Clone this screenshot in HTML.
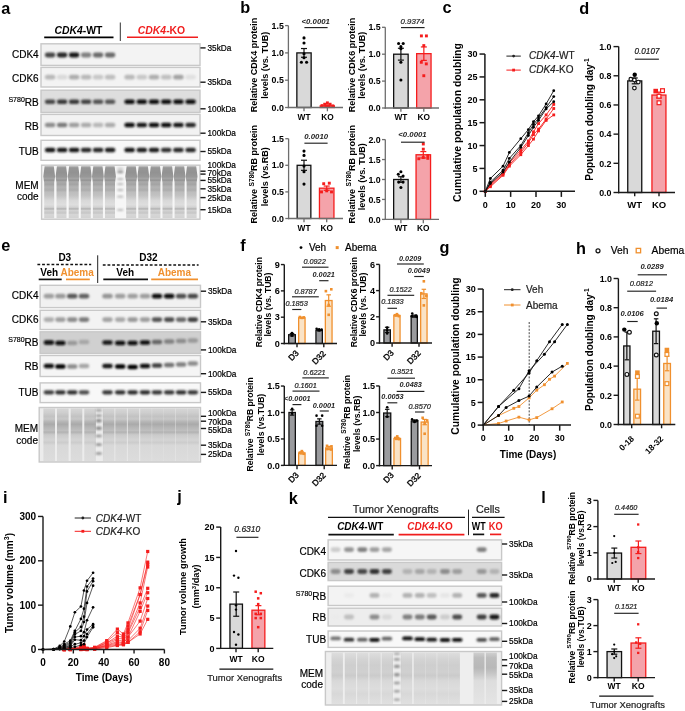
<!DOCTYPE html>
<html><head><meta charset="utf-8"><title>Figure</title>
<style>html,body{margin:0;padding:0;background:#fff;overflow:hidden;}svg{display:block;will-change:transform;}
text{font-family:"Liberation Sans",sans-serif;}</style></head>
<body><svg width="685" height="711" viewBox="0 0 685 711" font-family="'Liberation Sans', sans-serif"><defs>
<filter id="bl" x="-50%" y="-100%" width="200%" height="300%"><feGaussianBlur stdDeviation="1.1 0.85"/></filter>
<filter id="bl2" x="-20%" y="-5%" width="140%" height="110%"><feGaussianBlur stdDeviation="0.7"/></filter>
<linearGradient id="memg" x1="0" y1="0" x2="0" y2="1">
<stop offset="0" stop-color="#a8a8a8"/>
<stop offset="0.04" stop-color="#969696"/>
<stop offset="0.12" stop-color="#929292"/>
<stop offset="0.2" stop-color="#989898"/>
<stop offset="0.24" stop-color="#a4a4a4"/>
<stop offset="0.27" stop-color="#939393"/>
<stop offset="0.3" stop-color="#aaaaaa"/>
<stop offset="0.35" stop-color="#a4a4a4"/>
<stop offset="0.4" stop-color="#b4b4b4"/>
<stop offset="0.46" stop-color="#adadad"/>
<stop offset="0.5" stop-color="#bdbdbd"/>
<stop offset="0.56" stop-color="#c2c2c2"/>
<stop offset="0.6" stop-color="#cacaca"/>
<stop offset="0.66" stop-color="#d8d8d8"/>
<stop offset="0.74" stop-color="#dedede"/>
<stop offset="0.79" stop-color="#d2d2d2"/>
<stop offset="0.82" stop-color="#b2b2b2"/>
<stop offset="0.85" stop-color="#d2d2d2"/>
<stop offset="0.9" stop-color="#c6c6c6"/>
<stop offset="0.93" stop-color="#d6d6d6"/>
<stop offset="1" stop-color="#d2d2d2"/>
</linearGradient>
<linearGradient id="memg2" x1="0" y1="0" x2="0" y2="1">
<stop offset="0" stop-color="#d6d6d6"/>
<stop offset="0.08" stop-color="#cecece"/>
<stop offset="0.15" stop-color="#c2c2c2"/>
<stop offset="0.2" stop-color="#c8c8c8"/>
<stop offset="0.25" stop-color="#b6b6b6"/>
<stop offset="0.3" stop-color="#aaaaaa"/>
<stop offset="0.36" stop-color="#b6b6b6"/>
<stop offset="0.42" stop-color="#bebebe"/>
<stop offset="0.45" stop-color="#b2b2b2"/>
<stop offset="0.5" stop-color="#cacaca"/>
<stop offset="0.6" stop-color="#d4d4d4"/>
<stop offset="0.65" stop-color="#cccccc"/>
<stop offset="0.7" stop-color="#d8d8d8"/>
<stop offset="1" stop-color="#dcdcdc"/>
</linearGradient>
<linearGradient id="memg3" x1="0" y1="0" x2="0" y2="1">
<stop offset="0" stop-color="#dedede"/>
<stop offset="0.12" stop-color="#d4d4d4"/>
<stop offset="0.25" stop-color="#cecece"/>
<stop offset="0.38" stop-color="#d0d0d0"/>
<stop offset="0.45" stop-color="#cbcbcb"/>
<stop offset="0.55" stop-color="#d8d8d8"/>
<stop offset="0.7" stop-color="#dddddd"/>
<stop offset="0.8" stop-color="#d8d8d8"/>
<stop offset="1" stop-color="#e0e0e0"/>
</linearGradient>
<linearGradient id="memg4" x1="0" y1="0" x2="0" y2="1">
<stop offset="0" stop-color="#d0d0d0"/>
<stop offset="0.1" stop-color="#bdbdbd"/>
<stop offset="0.3" stop-color="#b8b8b8"/>
<stop offset="0.42" stop-color="#c8c8c8"/>
<stop offset="0.55" stop-color="#dddddd"/>
<stop offset="1" stop-color="#e4e4e4"/>
</linearGradient>
</defs>
<text x="1.30" y="13.60" font-size="16.3" font-weight="bold">a</text>
<text x="78.40" y="33.70" font-size="10.4" font-weight="bold" text-anchor="middle"><tspan font-style="italic">CDK4</tspan>-WT</text>
<line x1="44.20" y1="37.40" x2="113.50" y2="37.40" stroke="#000" stroke-width="1.6"/>
<text x="161.50" y="33.60" font-size="10.4" font-weight="bold" text-anchor="middle" fill="#f01e1e"><tspan font-style="italic">CDK4</tspan>-KO</text>
<line x1="127.00" y1="37.30" x2="198.00" y2="37.30" stroke="#f01e1e" stroke-width="1.6"/>
<line x1="120.30" y1="22.50" x2="120.30" y2="41.00" stroke="#333" stroke-width="1"/>
<rect x="41.00" y="43.80" width="159.00" height="21.60" fill="#f3f3f3" stroke="#c8c8c8" stroke-width="1.4"/>
<rect x="44.85" y="52.60" width="10.50" height="4.80" rx="2.40" fill="#474747" filter="url(#bl)"/>
<rect x="56.85" y="52.60" width="10.50" height="4.80" rx="2.40" fill="#262626" filter="url(#bl)"/>
<rect x="68.85" y="52.60" width="10.50" height="4.80" rx="2.40" fill="#191919" filter="url(#bl)"/>
<rect x="80.85" y="52.60" width="10.50" height="4.80" rx="2.40" fill="#808080" filter="url(#bl)"/>
<rect x="92.85" y="52.60" width="10.50" height="4.80" rx="2.40" fill="#6b6b6b" filter="url(#bl)"/>
<rect x="104.85" y="52.60" width="10.50" height="4.80" rx="2.40" fill="#6b6b6b" filter="url(#bl)"/>
<text x="38.70" y="58.30" font-size="10" text-anchor="end" stroke="#000" stroke-width="0.2">CDK4</text>
<line x1="200.40" y1="47.90" x2="205.60" y2="47.90" stroke="#1a1a1a" stroke-width="1.4"/>
<text x="207.50" y="50.87" font-size="8.25" stroke="#000" stroke-width="0.2">35kDa</text>
<rect x="41.00" y="67.40" width="159.00" height="19.60" fill="#f3f3f3" stroke="#c8c8c8" stroke-width="1.4"/>
<rect x="44.85" y="74.80" width="10.50" height="4.80" rx="2.40" fill="#b8b8b8" filter="url(#bl)"/>
<rect x="56.85" y="74.80" width="10.50" height="4.80" rx="2.40" fill="#d9d9d9" filter="url(#bl)"/>
<rect x="68.85" y="74.80" width="10.50" height="4.80" rx="2.40" fill="#adadad" filter="url(#bl)"/>
<rect x="80.85" y="74.80" width="10.50" height="4.80" rx="2.40" fill="#b8b8b8" filter="url(#bl)"/>
<rect x="92.85" y="74.80" width="10.50" height="4.80" rx="2.40" fill="#c7c7c7" filter="url(#bl)"/>
<rect x="104.85" y="74.80" width="10.50" height="4.80" rx="2.40" fill="#bdbdbd" filter="url(#bl)"/>
<rect x="124.35" y="74.80" width="10.50" height="4.80" rx="2.40" fill="#b8b8b8" filter="url(#bl)"/>
<rect x="136.55" y="74.80" width="10.50" height="4.80" rx="2.40" fill="#c7c7c7" filter="url(#bl)"/>
<rect x="148.75" y="74.80" width="10.50" height="4.80" rx="2.40" fill="#adadad" filter="url(#bl)"/>
<rect x="160.95" y="74.80" width="10.50" height="4.80" rx="2.40" fill="#bfbfbf" filter="url(#bl)"/>
<rect x="173.15" y="74.80" width="10.50" height="4.80" rx="2.40" fill="#a3a3a3" filter="url(#bl)"/>
<rect x="185.35" y="74.80" width="10.50" height="4.80" rx="2.40" fill="#e0e0e0" filter="url(#bl)"/>
<text x="38.70" y="81.80" font-size="10" text-anchor="end" stroke="#000" stroke-width="0.2">CDK6</text>
<line x1="200.40" y1="82.20" x2="205.60" y2="82.20" stroke="#1a1a1a" stroke-width="1.4"/>
<text x="207.50" y="85.17" font-size="8.25" stroke="#000" stroke-width="0.2">35kDa</text>
<rect x="41.00" y="90.20" width="159.00" height="22.20" fill="#dedede" stroke="#c8c8c8" stroke-width="1.4"/>
<rect x="44.85" y="99.50" width="10.50" height="4.60" rx="2.30" fill="#474747" filter="url(#bl)"/>
<rect x="56.85" y="99.50" width="10.50" height="4.60" rx="2.30" fill="#383838" filter="url(#bl)"/>
<rect x="68.85" y="99.50" width="10.50" height="4.60" rx="2.30" fill="#383838" filter="url(#bl)"/>
<rect x="80.85" y="99.50" width="10.50" height="4.60" rx="2.30" fill="#424242" filter="url(#bl)"/>
<rect x="92.85" y="99.50" width="10.50" height="4.60" rx="2.30" fill="#525252" filter="url(#bl)"/>
<rect x="104.85" y="99.50" width="10.50" height="4.60" rx="2.30" fill="#575757" filter="url(#bl)"/>
<rect x="124.35" y="99.50" width="10.50" height="4.60" rx="2.30" fill="#0d0d0d" filter="url(#bl)"/>
<rect x="136.55" y="99.50" width="10.50" height="4.60" rx="2.30" fill="#0d0d0d" filter="url(#bl)"/>
<rect x="148.75" y="99.50" width="10.50" height="4.60" rx="2.30" fill="#0d0d0d" filter="url(#bl)"/>
<rect x="160.95" y="99.50" width="10.50" height="4.60" rx="2.30" fill="#0d0d0d" filter="url(#bl)"/>
<rect x="173.15" y="99.50" width="10.50" height="4.60" rx="2.30" fill="#0d0d0d" filter="url(#bl)"/>
<rect x="185.35" y="99.50" width="10.50" height="4.60" rx="2.30" fill="#0d0d0d" filter="url(#bl)"/>
<text x="38.70" y="105.80" font-size="10" text-anchor="end" stroke="#000" stroke-width="0.2"><tspan font-size="7.00" dy="-3.80">S780</tspan><tspan dy="3.80">RB</tspan></text>
<line x1="200.40" y1="108.80" x2="205.60" y2="108.80" stroke="#1a1a1a" stroke-width="1.4"/>
<text x="207.50" y="111.77" font-size="8.25" stroke="#000" stroke-width="0.2">100kDa</text>
<rect x="41.00" y="114.40" width="159.00" height="21.10" fill="#f2f2f2" stroke="#c8c8c8" stroke-width="1.4"/>
<rect x="44.85" y="122.80" width="10.50" height="4.40" rx="2.20" fill="#8c8c8c" filter="url(#bl)"/>
<rect x="56.85" y="122.80" width="10.50" height="4.40" rx="2.20" fill="#7a7a7a" filter="url(#bl)"/>
<rect x="68.85" y="122.80" width="10.50" height="4.40" rx="2.20" fill="#9e9e9e" filter="url(#bl)"/>
<rect x="80.85" y="122.80" width="10.50" height="4.40" rx="2.20" fill="#ababab" filter="url(#bl)"/>
<rect x="92.85" y="122.80" width="10.50" height="4.40" rx="2.20" fill="#b8b8b8" filter="url(#bl)"/>
<rect x="104.85" y="122.80" width="10.50" height="4.40" rx="2.20" fill="#ababab" filter="url(#bl)"/>
<rect x="124.35" y="122.80" width="10.50" height="4.40" rx="2.20" fill="#0d0d0d" filter="url(#bl)"/>
<rect x="136.55" y="122.80" width="10.50" height="4.40" rx="2.20" fill="#191919" filter="url(#bl)"/>
<rect x="148.75" y="122.80" width="10.50" height="4.40" rx="2.20" fill="#080808" filter="url(#bl)"/>
<rect x="160.95" y="122.80" width="10.50" height="4.40" rx="2.20" fill="#0d0d0d" filter="url(#bl)"/>
<rect x="173.15" y="122.80" width="10.50" height="4.40" rx="2.20" fill="#191919" filter="url(#bl)"/>
<rect x="185.35" y="122.80" width="10.50" height="4.40" rx="2.20" fill="#262626" filter="url(#bl)"/>
<text x="38.70" y="130.10" font-size="10" text-anchor="end" stroke="#000" stroke-width="0.2">RB</text>
<line x1="200.40" y1="133.20" x2="205.60" y2="133.20" stroke="#1a1a1a" stroke-width="1.4"/>
<text x="207.50" y="136.17" font-size="8.25" stroke="#000" stroke-width="0.2">100kDa</text>
<rect x="41.00" y="140.30" width="159.00" height="20.00" fill="#f8f8f8" stroke="#c8c8c8" stroke-width="1.4"/>
<rect x="44.85" y="147.80" width="10.50" height="4.40" rx="2.20" fill="#141414" filter="url(#bl)"/>
<rect x="56.85" y="147.80" width="10.50" height="4.40" rx="2.20" fill="#191919" filter="url(#bl)"/>
<rect x="68.85" y="147.80" width="10.50" height="4.40" rx="2.20" fill="#191919" filter="url(#bl)"/>
<rect x="80.85" y="147.80" width="10.50" height="4.40" rx="2.20" fill="#262626" filter="url(#bl)"/>
<rect x="92.85" y="147.80" width="10.50" height="4.40" rx="2.20" fill="#262626" filter="url(#bl)"/>
<rect x="104.85" y="147.80" width="10.50" height="4.40" rx="2.20" fill="#1f1f1f" filter="url(#bl)"/>
<rect x="124.35" y="147.80" width="10.50" height="4.40" rx="2.20" fill="#191919" filter="url(#bl)"/>
<rect x="136.55" y="147.80" width="10.50" height="4.40" rx="2.20" fill="#1f1f1f" filter="url(#bl)"/>
<rect x="148.75" y="147.80" width="10.50" height="4.40" rx="2.20" fill="#1f1f1f" filter="url(#bl)"/>
<rect x="160.95" y="147.80" width="10.50" height="4.40" rx="2.20" fill="#333333" filter="url(#bl)"/>
<rect x="173.15" y="147.80" width="10.50" height="4.40" rx="2.20" fill="#262626" filter="url(#bl)"/>
<rect x="185.35" y="147.80" width="10.50" height="4.40" rx="2.20" fill="#262626" filter="url(#bl)"/>
<text x="38.70" y="155.10" font-size="10" text-anchor="end" stroke="#000" stroke-width="0.2">TUB</text>
<line x1="200.40" y1="151.50" x2="205.60" y2="151.50" stroke="#1a1a1a" stroke-width="1.4"/>
<text x="207.50" y="154.47" font-size="8.25" stroke="#000" stroke-width="0.2">55kDa</text>
<rect x="41.60" y="165.20" width="158.40" height="54.00" fill="#f6f6f6" stroke="#c8c8c8" stroke-width="1.4"/>
<polygon points="44.60,166.20 53.80,166.20 55.10,176.60 54.20,182.84 54.20,218.20 44.20,218.20 44.20,182.84 43.30,176.60" fill="url(#memg)" filter="url(#bl2)"/>
<polygon points="56.90,166.20 66.10,166.20 67.40,176.60 66.50,182.84 66.50,218.20 56.50,218.20 56.50,182.84 55.60,176.60" fill="url(#memg)" filter="url(#bl2)"/>
<polygon points="69.10,166.20 78.30,166.20 79.60,176.60 78.70,182.84 78.70,218.20 68.70,218.20 68.70,182.84 67.80,176.60" fill="url(#memg)" filter="url(#bl2)"/>
<polygon points="81.20,166.20 90.40,166.20 91.70,176.60 90.80,182.84 90.80,218.20 80.80,218.20 80.80,182.84 79.90,176.60" fill="url(#memg)" filter="url(#bl2)"/>
<polygon points="93.30,166.20 102.50,166.20 103.80,176.60 102.90,182.84 102.90,218.20 92.90,218.20 92.90,182.84 92.00,176.60" fill="url(#memg)" filter="url(#bl2)"/>
<polygon points="105.40,166.20 114.60,166.20 115.90,176.60 115.00,182.84 115.00,218.20 105.00,218.20 105.00,182.84 104.10,176.60" fill="url(#memg)" filter="url(#bl2)"/>
<polygon points="126.60,166.20 135.80,166.20 137.10,176.60 136.20,182.84 136.20,218.20 126.20,218.20 126.20,182.84 125.30,176.60" fill="url(#memg)" filter="url(#bl2)"/>
<polygon points="138.70,166.20 147.90,166.20 149.20,176.60 148.30,182.84 148.30,218.20 138.30,218.20 138.30,182.84 137.40,176.60" fill="url(#memg)" filter="url(#bl2)"/>
<polygon points="150.80,166.20 160.00,166.20 161.30,176.60 160.40,182.84 160.40,218.20 150.40,218.20 150.40,182.84 149.50,176.60" fill="url(#memg)" filter="url(#bl2)"/>
<polygon points="162.90,166.20 172.10,166.20 173.40,176.60 172.50,182.84 172.50,218.20 162.50,218.20 162.50,182.84 161.60,176.60" fill="url(#memg)" filter="url(#bl2)"/>
<polygon points="175.00,166.20 184.20,166.20 185.50,176.60 184.60,182.84 184.60,218.20 174.60,218.20 174.60,182.84 173.70,176.60" fill="url(#memg)" filter="url(#bl2)"/>
<polygon points="187.00,166.20 196.20,166.20 197.50,176.60 196.60,182.84 196.60,218.20 186.60,218.20 186.60,182.84 185.70,176.60" fill="url(#memg)" filter="url(#bl2)"/>
<rect x="117.30" y="167.70" width="6" height="1.8" rx="0.9" fill="#bfbfbf" filter="url(#bl)"/>
<rect x="117.30" y="170.60" width="6" height="2.6" rx="1.3" fill="#999999" filter="url(#bl)"/>
<rect x="117.30" y="178.30" width="6" height="1.8" rx="0.9" fill="#b2b2b2" filter="url(#bl)"/>
<rect x="117.30" y="183.30" width="6" height="1.8" rx="0.9" fill="#b2b2b2" filter="url(#bl)"/>
<rect x="117.30" y="189.10" width="6" height="1.8" rx="0.9" fill="#b8b8b8" filter="url(#bl)"/>
<rect x="117.30" y="195.80" width="6" height="1.8" rx="0.9" fill="#b2b2b2" filter="url(#bl)"/>
<rect x="117.30" y="209.00" width="6" height="1.8" rx="0.9" fill="#b2b2b2" filter="url(#bl)"/>
<text x="38.70" y="188.50" font-size="10" text-anchor="end" stroke="#000" stroke-width="0.2">MEM</text>
<text x="38.70" y="200.40" font-size="10" text-anchor="end" stroke="#000" stroke-width="0.2">code</text>
<text x="207.50" y="167.97" font-size="8.25" stroke="#000" stroke-width="0.2">100kDa</text>
<line x1="200.40" y1="171.20" x2="205.60" y2="171.20" stroke="#1a1a1a" stroke-width="1.4"/>
<line x1="200.40" y1="174.10" x2="205.60" y2="174.10" stroke="#1a1a1a" stroke-width="1.4"/>
<text x="207.50" y="175.77" font-size="8.25" stroke="#000" stroke-width="0.2">70kDa</text>
<line x1="200.40" y1="180.40" x2="205.60" y2="180.40" stroke="#1a1a1a" stroke-width="1.4"/>
<text x="207.50" y="183.37" font-size="8.25" stroke="#000" stroke-width="0.2">55kDa</text>
<line x1="200.40" y1="188.80" x2="205.60" y2="188.80" stroke="#1a1a1a" stroke-width="1.4"/>
<text x="207.50" y="191.77" font-size="8.25" stroke="#000" stroke-width="0.2">35kDa</text>
<line x1="200.40" y1="197.60" x2="205.60" y2="197.60" stroke="#1a1a1a" stroke-width="1.4"/>
<text x="207.50" y="200.57" font-size="8.25" stroke="#000" stroke-width="0.2">25kDa</text>
<line x1="200.40" y1="209.70" x2="205.60" y2="209.70" stroke="#1a1a1a" stroke-width="1.4"/>
<text x="207.50" y="212.67" font-size="8.25" stroke="#000" stroke-width="0.2">15kDa</text>
<text x="240.20" y="13.10" font-size="16.3" font-weight="bold">b</text>
<text x="0" y="0" font-size="9" font-weight="bold" text-anchor="middle" transform="translate(257.00,64.90) rotate(-90)">Relative CDK4 protein</text>
<text x="0" y="0" font-size="9" font-weight="bold" text-anchor="middle" transform="translate(267.60,65.20) rotate(-90)">levels (vs. TUB)</text>
<line x1="288.40" y1="25.60" x2="288.40" y2="108.15" stroke="#6e6e6e" stroke-width="1.3"/>
<line x1="285.10" y1="107.50" x2="288.40" y2="107.50" stroke="#6e6e6e" stroke-width="1.3"/>
<text x="283.80" y="110.67" font-size="8.8" font-weight="bold" text-anchor="end">0.0</text>
<line x1="285.10" y1="80.20" x2="288.40" y2="80.20" stroke="#6e6e6e" stroke-width="1.3"/>
<text x="283.80" y="83.37" font-size="8.8" font-weight="bold" text-anchor="end">0.5</text>
<line x1="285.10" y1="52.90" x2="288.40" y2="52.90" stroke="#6e6e6e" stroke-width="1.3"/>
<text x="283.80" y="56.07" font-size="8.8" font-weight="bold" text-anchor="end">1.0</text>
<line x1="285.10" y1="25.60" x2="288.40" y2="25.60" stroke="#6e6e6e" stroke-width="1.3"/>
<text x="283.80" y="28.77" font-size="8.8" font-weight="bold" text-anchor="end">1.5</text>
<rect x="296.85" y="52.90" width="14.30" height="54.60" fill="#d9d9d9" stroke="#111" stroke-width="1.3"/>
<line x1="304.00" y1="48.53" x2="304.00" y2="57.27" stroke="#111" stroke-width="1.2"/>
<line x1="301.00" y1="48.53" x2="307.00" y2="48.53" stroke="#111" stroke-width="1.2"/>
<line x1="301.00" y1="57.27" x2="307.00" y2="57.27" stroke="#111" stroke-width="1.2"/>
<rect x="320.25" y="105.86" width="14.10" height="1.64" fill="#f4a3aa" stroke="#f51d1d" stroke-width="1.3"/>
<line x1="327.30" y1="105.21" x2="327.30" y2="106.52" stroke="#f51d1d" stroke-width="1.2"/>
<line x1="324.30" y1="105.21" x2="330.30" y2="105.21" stroke="#f51d1d" stroke-width="1.2"/>
<line x1="324.30" y1="106.52" x2="330.30" y2="106.52" stroke="#f51d1d" stroke-width="1.2"/>
<circle cx="304.00" cy="37.89" r="1.55" fill="#000"/>
<circle cx="304.00" cy="43.07" r="1.55" fill="#000"/>
<circle cx="304.00" cy="53.72" r="1.55" fill="#000"/>
<circle cx="304.00" cy="57.81" r="1.55" fill="#000"/>
<circle cx="301.40" cy="62.18" r="1.55" fill="#000"/>
<circle cx="306.60" cy="62.18" r="1.55" fill="#000"/>
<rect x="325.95" y="101.41" width="2.90" height="2.90" fill="#f51d1d"/>
<rect x="323.25" y="102.77" width="2.90" height="2.90" fill="#f51d1d"/>
<rect x="328.65" y="102.77" width="2.90" height="2.90" fill="#f51d1d"/>
<rect x="320.55" y="104.14" width="2.90" height="2.90" fill="#f51d1d"/>
<rect x="331.35" y="104.41" width="2.90" height="2.90" fill="#f51d1d"/>
<rect x="325.95" y="104.41" width="2.90" height="2.90" fill="#f51d1d"/>
<line x1="287.75" y1="107.50" x2="343.00" y2="107.50" stroke="#6e6e6e" stroke-width="1.3"/>
<line x1="304.00" y1="107.50" x2="304.00" y2="111.30" stroke="#6e6e6e" stroke-width="1.3"/>
<line x1="327.40" y1="107.50" x2="327.40" y2="111.30" stroke="#6e6e6e" stroke-width="1.3"/>
<text x="304.00" y="119.60" font-size="8.3" font-weight="bold" text-anchor="middle">WT</text>
<text x="327.40" y="119.60" font-size="8.3" font-weight="bold" text-anchor="middle">KO</text>
<text x="315.70" y="23.60" font-size="7.8" font-weight="bold" font-style="italic" text-anchor="middle" fill="#222">&lt;0.0001</text>
<line x1="304.40" y1="27.60" x2="327.60" y2="27.60" stroke="#222" stroke-width="1.15"/>
<text x="0" y="0" font-size="9" font-weight="bold" text-anchor="middle" transform="translate(354.60,64.90) rotate(-90)">Relative CDK6 protein</text>
<text x="0" y="0" font-size="9" font-weight="bold" text-anchor="middle" transform="translate(364.70,65.20) rotate(-90)">levels (vs. TUB)</text>
<line x1="385.30" y1="27.30" x2="385.30" y2="108.65" stroke="#6e6e6e" stroke-width="1.3"/>
<line x1="382.00" y1="108.00" x2="385.30" y2="108.00" stroke="#6e6e6e" stroke-width="1.3"/>
<text x="380.70" y="111.17" font-size="8.8" font-weight="bold" text-anchor="end">0.0</text>
<line x1="382.00" y1="81.10" x2="385.30" y2="81.10" stroke="#6e6e6e" stroke-width="1.3"/>
<text x="380.70" y="84.27" font-size="8.8" font-weight="bold" text-anchor="end">0.5</text>
<line x1="382.00" y1="54.20" x2="385.30" y2="54.20" stroke="#6e6e6e" stroke-width="1.3"/>
<text x="380.70" y="57.37" font-size="8.8" font-weight="bold" text-anchor="end">1.0</text>
<line x1="382.00" y1="27.30" x2="385.30" y2="27.30" stroke="#6e6e6e" stroke-width="1.3"/>
<text x="380.70" y="30.47" font-size="8.8" font-weight="bold" text-anchor="end">1.5</text>
<rect x="393.65" y="54.20" width="14.50" height="53.80" fill="#d9d9d9" stroke="#111" stroke-width="1.3"/>
<line x1="400.90" y1="48.28" x2="400.90" y2="60.12" stroke="#111" stroke-width="1.2"/>
<line x1="397.90" y1="48.28" x2="403.90" y2="48.28" stroke="#111" stroke-width="1.2"/>
<line x1="397.90" y1="60.12" x2="403.90" y2="60.12" stroke="#111" stroke-width="1.2"/>
<rect x="416.65" y="53.66" width="14.40" height="54.34" fill="#f4a3aa" stroke="#f51d1d" stroke-width="1.3"/>
<line x1="423.85" y1="46.94" x2="423.85" y2="60.39" stroke="#f51d1d" stroke-width="1.2"/>
<line x1="420.85" y1="46.94" x2="426.85" y2="46.94" stroke="#f51d1d" stroke-width="1.2"/>
<line x1="420.85" y1="60.39" x2="426.85" y2="60.39" stroke="#f51d1d" stroke-width="1.2"/>
<circle cx="398.60" cy="43.44" r="1.55" fill="#000"/>
<circle cx="403.20" cy="43.44" r="1.55" fill="#000"/>
<circle cx="400.90" cy="46.67" r="1.55" fill="#000"/>
<circle cx="400.90" cy="48.82" r="1.55" fill="#000"/>
<circle cx="400.90" cy="62.27" r="1.55" fill="#000"/>
<circle cx="400.90" cy="80.02" r="1.55" fill="#000"/>
<rect x="419.95" y="34.46" width="2.90" height="2.90" fill="#f51d1d"/>
<rect x="424.95" y="34.46" width="2.90" height="2.90" fill="#f51d1d"/>
<rect x="422.35" y="44.14" width="2.90" height="2.90" fill="#f51d1d"/>
<rect x="419.85" y="60.82" width="2.90" height="2.90" fill="#f51d1d"/>
<rect x="424.85" y="62.43" width="2.90" height="2.90" fill="#f51d1d"/>
<rect x="422.35" y="74.27" width="2.90" height="2.90" fill="#f51d1d"/>
<line x1="384.65" y1="108.00" x2="439.00" y2="108.00" stroke="#6e6e6e" stroke-width="1.3"/>
<line x1="400.90" y1="108.00" x2="400.90" y2="111.80" stroke="#6e6e6e" stroke-width="1.3"/>
<line x1="423.80" y1="108.00" x2="423.80" y2="111.80" stroke="#6e6e6e" stroke-width="1.3"/>
<text x="400.90" y="119.80" font-size="8.3" font-weight="bold" text-anchor="middle">WT</text>
<text x="423.80" y="119.80" font-size="8.3" font-weight="bold" text-anchor="middle">KO</text>
<text x="412.50" y="23.90" font-size="7.8" font-style="italic" text-anchor="middle" fill="#222" stroke="#222" stroke-width="0.2">0.9374</text>
<line x1="401.00" y1="27.60" x2="424.60" y2="27.60" stroke="#222" stroke-width="1.15"/>
<text x="0" y="0" font-size="9" font-weight="bold" text-anchor="middle" transform="translate(257.20,174.20) rotate(-90)"><tspan>Relative </tspan><tspan font-size="6.6" dy="-3.7">S780</tspan><tspan dy="3.7">RB protein</tspan></text>
<text x="0" y="0" font-size="9" font-weight="bold" text-anchor="middle" transform="translate(267.90,176.70) rotate(-90)">levels (vs.RB)</text>
<line x1="288.60" y1="138.70" x2="288.60" y2="219.15" stroke="#6e6e6e" stroke-width="1.3"/>
<line x1="285.30" y1="218.50" x2="288.60" y2="218.50" stroke="#6e6e6e" stroke-width="1.3"/>
<text x="284.00" y="221.67" font-size="8.8" font-weight="bold" text-anchor="end">0.0</text>
<line x1="285.30" y1="191.90" x2="288.60" y2="191.90" stroke="#6e6e6e" stroke-width="1.3"/>
<text x="284.00" y="195.07" font-size="8.8" font-weight="bold" text-anchor="end">0.5</text>
<line x1="285.30" y1="165.30" x2="288.60" y2="165.30" stroke="#6e6e6e" stroke-width="1.3"/>
<text x="284.00" y="168.47" font-size="8.8" font-weight="bold" text-anchor="end">1.0</text>
<line x1="285.30" y1="138.70" x2="288.60" y2="138.70" stroke="#6e6e6e" stroke-width="1.3"/>
<text x="284.00" y="141.87" font-size="8.8" font-weight="bold" text-anchor="end">1.5</text>
<rect x="297.15" y="165.30" width="13.70" height="53.20" fill="#d9d9d9" stroke="#111" stroke-width="1.3"/>
<line x1="304.00" y1="160.25" x2="304.00" y2="170.35" stroke="#111" stroke-width="1.2"/>
<line x1="301.00" y1="160.25" x2="307.00" y2="160.25" stroke="#111" stroke-width="1.2"/>
<line x1="301.00" y1="170.35" x2="307.00" y2="170.35" stroke="#111" stroke-width="1.2"/>
<rect x="319.45" y="188.18" width="14.50" height="30.32" fill="#f4a3aa" stroke="#f51d1d" stroke-width="1.3"/>
<line x1="326.70" y1="186.05" x2="326.70" y2="190.30" stroke="#f51d1d" stroke-width="1.2"/>
<line x1="323.70" y1="186.05" x2="329.70" y2="186.05" stroke="#f51d1d" stroke-width="1.2"/>
<line x1="323.70" y1="190.30" x2="329.70" y2="190.30" stroke="#f51d1d" stroke-width="1.2"/>
<circle cx="304.00" cy="151.10" r="1.55" fill="#000"/>
<circle cx="304.00" cy="155.40" r="1.55" fill="#000"/>
<circle cx="304.00" cy="166.10" r="1.55" fill="#000"/>
<circle cx="304.00" cy="171.68" r="1.55" fill="#000"/>
<circle cx="304.00" cy="184.08" r="1.55" fill="#000"/>
<rect x="322.25" y="182.26" width="2.90" height="2.90" fill="#f51d1d"/>
<rect x="327.85" y="181.73" width="2.90" height="2.90" fill="#f51d1d"/>
<rect x="320.05" y="190.45" width="2.90" height="2.90" fill="#f51d1d"/>
<rect x="325.25" y="189.39" width="2.90" height="2.90" fill="#f51d1d"/>
<rect x="330.05" y="190.45" width="2.90" height="2.90" fill="#f51d1d"/>
<line x1="287.95" y1="218.50" x2="343.00" y2="218.50" stroke="#6e6e6e" stroke-width="1.3"/>
<line x1="304.00" y1="218.50" x2="304.00" y2="222.30" stroke="#6e6e6e" stroke-width="1.3"/>
<line x1="326.70" y1="218.50" x2="326.70" y2="222.30" stroke="#6e6e6e" stroke-width="1.3"/>
<text x="304.00" y="231.30" font-size="8.3" font-weight="bold" text-anchor="middle">WT</text>
<text x="326.70" y="231.30" font-size="8.3" font-weight="bold" text-anchor="middle">KO</text>
<text x="316.20" y="138.90" font-size="7.8" font-weight="bold" font-style="italic" text-anchor="middle" fill="#222">0.0010</text>
<line x1="304.40" y1="143.20" x2="327.60" y2="143.20" stroke="#222" stroke-width="1.15"/>
<text x="0" y="0" font-size="9" font-weight="bold" text-anchor="middle" transform="translate(354.80,174.20) rotate(-90)"><tspan>Relative </tspan><tspan font-size="6.6" dy="-3.7">S780</tspan><tspan dy="3.7">RB protein</tspan></text>
<text x="0" y="0" font-size="9" font-weight="bold" text-anchor="middle" transform="translate(364.90,176.70) rotate(-90)">levels (vs. TUB)</text>
<line x1="385.30" y1="139.60" x2="385.30" y2="220.05" stroke="#6e6e6e" stroke-width="1.3"/>
<line x1="382.00" y1="219.40" x2="385.30" y2="219.40" stroke="#6e6e6e" stroke-width="1.3"/>
<text x="380.70" y="222.57" font-size="8.8" font-weight="bold" text-anchor="end">0.0</text>
<line x1="382.00" y1="199.45" x2="385.30" y2="199.45" stroke="#6e6e6e" stroke-width="1.3"/>
<text x="380.70" y="202.62" font-size="8.8" font-weight="bold" text-anchor="end">0.5</text>
<line x1="382.00" y1="179.50" x2="385.30" y2="179.50" stroke="#6e6e6e" stroke-width="1.3"/>
<text x="380.70" y="182.67" font-size="8.8" font-weight="bold" text-anchor="end">1.0</text>
<line x1="382.00" y1="159.55" x2="385.30" y2="159.55" stroke="#6e6e6e" stroke-width="1.3"/>
<text x="380.70" y="162.72" font-size="8.8" font-weight="bold" text-anchor="end">1.5</text>
<line x1="382.00" y1="139.60" x2="385.30" y2="139.60" stroke="#6e6e6e" stroke-width="1.3"/>
<text x="380.70" y="142.77" font-size="8.8" font-weight="bold" text-anchor="end">2.0</text>
<rect x="393.65" y="179.50" width="14.50" height="39.90" fill="#d9d9d9" stroke="#111" stroke-width="1.3"/>
<line x1="400.90" y1="176.71" x2="400.90" y2="182.29" stroke="#111" stroke-width="1.2"/>
<line x1="397.90" y1="176.71" x2="403.90" y2="176.71" stroke="#111" stroke-width="1.2"/>
<line x1="397.90" y1="182.29" x2="403.90" y2="182.29" stroke="#111" stroke-width="1.2"/>
<rect x="416.05" y="154.76" width="14.50" height="64.64" fill="#f4a3aa" stroke="#f51d1d" stroke-width="1.3"/>
<line x1="423.30" y1="151.57" x2="423.30" y2="157.95" stroke="#f51d1d" stroke-width="1.2"/>
<line x1="420.30" y1="151.57" x2="426.30" y2="151.57" stroke="#f51d1d" stroke-width="1.2"/>
<line x1="420.30" y1="157.95" x2="426.30" y2="157.95" stroke="#f51d1d" stroke-width="1.2"/>
<circle cx="400.90" cy="171.72" r="1.55" fill="#000"/>
<circle cx="398.30" cy="174.31" r="1.55" fill="#000"/>
<circle cx="403.10" cy="176.11" r="1.55" fill="#000"/>
<circle cx="398.70" cy="182.09" r="1.55" fill="#000"/>
<circle cx="403.10" cy="182.09" r="1.55" fill="#000"/>
<circle cx="400.90" cy="187.48" r="1.55" fill="#000"/>
<rect x="421.85" y="142.54" width="2.90" height="2.90" fill="#f51d1d"/>
<rect x="421.85" y="147.73" width="2.90" height="2.90" fill="#f51d1d"/>
<rect x="417.35" y="157.30" width="2.90" height="2.90" fill="#f51d1d"/>
<rect x="421.85" y="156.11" width="2.90" height="2.90" fill="#f51d1d"/>
<rect x="426.35" y="156.90" width="2.90" height="2.90" fill="#f51d1d"/>
<rect x="426.35" y="154.11" width="2.90" height="2.90" fill="#f51d1d"/>
<line x1="384.65" y1="219.40" x2="439.00" y2="219.40" stroke="#6e6e6e" stroke-width="1.3"/>
<line x1="400.90" y1="219.40" x2="400.90" y2="223.20" stroke="#6e6e6e" stroke-width="1.3"/>
<line x1="423.30" y1="219.40" x2="423.30" y2="223.20" stroke="#6e6e6e" stroke-width="1.3"/>
<text x="400.90" y="231.30" font-size="8.3" font-weight="bold" text-anchor="middle">WT</text>
<text x="423.30" y="231.30" font-size="8.3" font-weight="bold" text-anchor="middle">KO</text>
<text x="412.50" y="137.00" font-size="7.8" font-weight="bold" font-style="italic" text-anchor="middle" fill="#222">&lt;0.0001</text>
<line x1="401.00" y1="142.20" x2="424.60" y2="142.20" stroke="#222" stroke-width="1.15"/>
<text x="442.40" y="13.30" font-size="16.3" font-weight="bold">c</text>
<text x="0" y="0" font-size="10.4" font-weight="bold" text-anchor="middle" transform="translate(461.00,122.60) rotate(-90)">Cumulative population doubling</text>
<line x1="484.90" y1="54.05" x2="484.90" y2="192.05" stroke="#1a1a1a" stroke-width="1.5"/>
<line x1="479.50" y1="191.30" x2="484.90" y2="191.30" stroke="#1a1a1a" stroke-width="1.5"/>
<text x="477.50" y="194.54" font-size="9" font-weight="bold" text-anchor="end">0</text>
<line x1="479.50" y1="168.43" x2="484.90" y2="168.43" stroke="#1a1a1a" stroke-width="1.5"/>
<text x="477.50" y="171.67" font-size="9" font-weight="bold" text-anchor="end">5</text>
<line x1="479.50" y1="145.55" x2="484.90" y2="145.55" stroke="#1a1a1a" stroke-width="1.5"/>
<text x="477.50" y="148.79" font-size="9" font-weight="bold" text-anchor="end">10</text>
<line x1="479.50" y1="122.68" x2="484.90" y2="122.68" stroke="#1a1a1a" stroke-width="1.5"/>
<text x="477.50" y="125.92" font-size="9" font-weight="bold" text-anchor="end">15</text>
<line x1="479.50" y1="99.80" x2="484.90" y2="99.80" stroke="#1a1a1a" stroke-width="1.5"/>
<text x="477.50" y="103.04" font-size="9" font-weight="bold" text-anchor="end">20</text>
<line x1="479.50" y1="76.93" x2="484.90" y2="76.93" stroke="#1a1a1a" stroke-width="1.5"/>
<text x="477.50" y="80.17" font-size="9" font-weight="bold" text-anchor="end">25</text>
<line x1="479.50" y1="54.05" x2="484.90" y2="54.05" stroke="#1a1a1a" stroke-width="1.5"/>
<text x="477.50" y="57.29" font-size="9" font-weight="bold" text-anchor="end">30</text>
<polyline points="485.30,191.30 490.37,184.44 503.05,173.00 509.38,162.94 520.79,150.12 528.39,140.98 533.47,131.83 538.53,123.59 546.14,114.90 553.75,104.38" fill="none" stroke="#f51d1d" stroke-width="0.9"/>
<rect x="483.90" y="189.90" width="2.80" height="2.80" fill="#f51d1d"/>
<rect x="488.97" y="183.04" width="2.80" height="2.80" fill="#f51d1d"/>
<rect x="501.65" y="171.60" width="2.80" height="2.80" fill="#f51d1d"/>
<rect x="507.98" y="161.53" width="2.80" height="2.80" fill="#f51d1d"/>
<rect x="519.39" y="148.72" width="2.80" height="2.80" fill="#f51d1d"/>
<rect x="527.00" y="139.58" width="2.80" height="2.80" fill="#f51d1d"/>
<rect x="532.07" y="130.43" width="2.80" height="2.80" fill="#f51d1d"/>
<rect x="537.13" y="122.19" width="2.80" height="2.80" fill="#f51d1d"/>
<rect x="544.74" y="113.50" width="2.80" height="2.80" fill="#f51d1d"/>
<rect x="552.35" y="102.98" width="2.80" height="2.80" fill="#f51d1d"/>
<polyline points="485.30,191.30 490.37,185.81 503.05,173.92 509.38,164.77 520.79,152.41 528.39,142.81 533.47,134.57 538.53,129.08 546.14,119.02 553.75,108.49" fill="none" stroke="#f51d1d" stroke-width="0.9"/>
<rect x="483.90" y="189.90" width="2.80" height="2.80" fill="#f51d1d"/>
<rect x="488.97" y="184.41" width="2.80" height="2.80" fill="#f51d1d"/>
<rect x="501.65" y="172.52" width="2.80" height="2.80" fill="#f51d1d"/>
<rect x="507.98" y="163.37" width="2.80" height="2.80" fill="#f51d1d"/>
<rect x="519.39" y="151.01" width="2.80" height="2.80" fill="#f51d1d"/>
<rect x="527.00" y="141.41" width="2.80" height="2.80" fill="#f51d1d"/>
<rect x="532.07" y="133.17" width="2.80" height="2.80" fill="#f51d1d"/>
<rect x="537.13" y="127.68" width="2.80" height="2.80" fill="#f51d1d"/>
<rect x="544.74" y="117.61" width="2.80" height="2.80" fill="#f51d1d"/>
<rect x="552.35" y="107.09" width="2.80" height="2.80" fill="#f51d1d"/>
<polyline points="485.30,191.30 490.37,186.73 503.05,175.29 509.38,166.14 520.79,154.70 528.39,145.55 533.47,139.15 538.53,130.91 546.14,120.39 553.75,114.90" fill="none" stroke="#f51d1d" stroke-width="0.9"/>
<rect x="483.90" y="189.90" width="2.80" height="2.80" fill="#f51d1d"/>
<rect x="488.97" y="185.33" width="2.80" height="2.80" fill="#f51d1d"/>
<rect x="501.65" y="173.89" width="2.80" height="2.80" fill="#f51d1d"/>
<rect x="507.98" y="164.74" width="2.80" height="2.80" fill="#f51d1d"/>
<rect x="519.39" y="153.30" width="2.80" height="2.80" fill="#f51d1d"/>
<rect x="527.00" y="144.15" width="2.80" height="2.80" fill="#f51d1d"/>
<rect x="532.07" y="137.75" width="2.80" height="2.80" fill="#f51d1d"/>
<rect x="537.13" y="129.51" width="2.80" height="2.80" fill="#f51d1d"/>
<rect x="544.74" y="118.99" width="2.80" height="2.80" fill="#f51d1d"/>
<rect x="552.35" y="113.50" width="2.80" height="2.80" fill="#f51d1d"/>
<polyline points="485.30,191.30 490.37,178.49 503.05,166.14 509.38,152.41 520.79,138.69 528.39,129.54 533.47,121.76 538.53,115.81 546.14,103.92 553.75,90.65" fill="none" stroke="#111" stroke-width="0.9"/>
<circle cx="485.30" cy="191.30" r="1.4" fill="#000"/>
<circle cx="490.37" cy="178.49" r="1.4" fill="#000"/>
<circle cx="503.05" cy="166.14" r="1.4" fill="#000"/>
<circle cx="509.38" cy="152.41" r="1.4" fill="#000"/>
<circle cx="520.79" cy="138.69" r="1.4" fill="#000"/>
<circle cx="528.39" cy="129.54" r="1.4" fill="#000"/>
<circle cx="533.47" cy="121.76" r="1.4" fill="#000"/>
<circle cx="538.53" cy="115.81" r="1.4" fill="#000"/>
<circle cx="546.14" cy="103.92" r="1.4" fill="#000"/>
<circle cx="553.75" cy="90.65" r="1.4" fill="#000"/>
<polyline points="485.30,191.30 490.37,182.15 503.05,170.26 509.38,158.36 520.79,145.55 528.39,132.74 533.47,124.51 538.53,118.10 546.14,107.58 553.75,96.60" fill="none" stroke="#111" stroke-width="0.9"/>
<circle cx="485.30" cy="191.30" r="1.4" fill="#000"/>
<circle cx="490.37" cy="182.15" r="1.4" fill="#000"/>
<circle cx="503.05" cy="170.26" r="1.4" fill="#000"/>
<circle cx="509.38" cy="158.36" r="1.4" fill="#000"/>
<circle cx="520.79" cy="145.55" r="1.4" fill="#000"/>
<circle cx="528.39" cy="132.74" r="1.4" fill="#000"/>
<circle cx="533.47" cy="124.51" r="1.4" fill="#000"/>
<circle cx="538.53" cy="118.10" r="1.4" fill="#000"/>
<circle cx="546.14" cy="107.58" r="1.4" fill="#000"/>
<circle cx="553.75" cy="96.60" r="1.4" fill="#000"/>
<polyline points="485.30,191.30 490.37,183.52 503.05,172.09 509.38,162.02 520.79,147.38 528.39,135.49 533.47,127.25 538.53,120.39 546.14,108.95 553.75,101.63" fill="none" stroke="#111" stroke-width="0.9"/>
<circle cx="485.30" cy="191.30" r="1.4" fill="#000"/>
<circle cx="490.37" cy="183.52" r="1.4" fill="#000"/>
<circle cx="503.05" cy="172.09" r="1.4" fill="#000"/>
<circle cx="509.38" cy="162.02" r="1.4" fill="#000"/>
<circle cx="520.79" cy="147.38" r="1.4" fill="#000"/>
<circle cx="528.39" cy="135.49" r="1.4" fill="#000"/>
<circle cx="533.47" cy="127.25" r="1.4" fill="#000"/>
<circle cx="538.53" cy="120.39" r="1.4" fill="#000"/>
<circle cx="546.14" cy="108.95" r="1.4" fill="#000"/>
<circle cx="553.75" cy="101.63" r="1.4" fill="#000"/>
<line x1="484.15" y1="191.30" x2="575.00" y2="191.30" stroke="#1a1a1a" stroke-width="1.5"/>
<line x1="485.30" y1="191.30" x2="485.30" y2="196.90" stroke="#1a1a1a" stroke-width="1.5"/>
<line x1="510.65" y1="191.30" x2="510.65" y2="196.90" stroke="#1a1a1a" stroke-width="1.5"/>
<line x1="536.00" y1="191.30" x2="536.00" y2="196.90" stroke="#1a1a1a" stroke-width="1.5"/>
<line x1="561.35" y1="191.30" x2="561.35" y2="196.90" stroke="#1a1a1a" stroke-width="1.5"/>
<text x="485.30" y="207.60" font-size="9" font-weight="bold" text-anchor="middle">0</text>
<text x="510.65" y="207.60" font-size="9" font-weight="bold" text-anchor="middle">10</text>
<text x="536.00" y="207.60" font-size="9" font-weight="bold" text-anchor="middle">20</text>
<text x="561.35" y="207.60" font-size="9" font-weight="bold" text-anchor="middle">30</text>
<line x1="506.40" y1="56.10" x2="520.80" y2="56.10" stroke="#222" stroke-width="1"/>
<circle cx="513.60" cy="56.10" r="1.4" fill="#222"/>
<line x1="506.40" y1="70.10" x2="520.80" y2="70.10" stroke="#f51d1d" stroke-width="1"/>
<rect x="512.20" y="68.70" width="2.80" height="2.80" fill="#f51d1d"/>
<text x="529.00" y="59.40" font-size="10" fill="#222" stroke="#222" stroke-width="0.2"><tspan font-style="italic">CDK4</tspan>-WT</text>
<text x="529.00" y="73.40" font-size="10" fill="#222" stroke="#222" stroke-width="0.2"><tspan font-style="italic">CDK4</tspan>-KO</text>
<text x="579.30" y="13.50" font-size="16.3" font-weight="bold">d</text>
<text x="0" y="0" font-size="10" font-weight="bold" text-anchor="middle" transform="translate(593.00,119.50) rotate(-90)"><tspan>Population doubling day</tspan><tspan font-size="6.5" dy="-4">-1</tspan></text>
<line x1="618.70" y1="46.60" x2="618.70" y2="193.20" stroke="#1a1a1a" stroke-width="1.4"/>
<line x1="613.50" y1="192.50" x2="618.70" y2="192.50" stroke="#1a1a1a" stroke-width="1.4"/>
<text x="611.50" y="195.70" font-size="8.9" font-weight="bold" text-anchor="end">0.0</text>
<line x1="613.50" y1="163.32" x2="618.70" y2="163.32" stroke="#1a1a1a" stroke-width="1.4"/>
<text x="611.50" y="166.52" font-size="8.9" font-weight="bold" text-anchor="end">0.2</text>
<line x1="613.50" y1="134.14" x2="618.70" y2="134.14" stroke="#1a1a1a" stroke-width="1.4"/>
<text x="611.50" y="137.34" font-size="8.9" font-weight="bold" text-anchor="end">0.4</text>
<line x1="613.50" y1="104.96" x2="618.70" y2="104.96" stroke="#1a1a1a" stroke-width="1.4"/>
<text x="611.50" y="108.16" font-size="8.9" font-weight="bold" text-anchor="end">0.6</text>
<line x1="613.50" y1="75.78" x2="618.70" y2="75.78" stroke="#1a1a1a" stroke-width="1.4"/>
<text x="611.50" y="78.98" font-size="8.9" font-weight="bold" text-anchor="end">0.8</text>
<line x1="613.50" y1="46.60" x2="618.70" y2="46.60" stroke="#1a1a1a" stroke-width="1.4"/>
<text x="611.50" y="49.80" font-size="8.9" font-weight="bold" text-anchor="end">1.0</text>
<rect x="627.75" y="80.89" width="14.00" height="111.61" fill="#d9d9d9" stroke="#111" stroke-width="1.3"/>
<line x1="634.75" y1="77.97" x2="634.75" y2="83.80" stroke="#111" stroke-width="1.2"/>
<line x1="631.75" y1="77.97" x2="637.75" y2="77.97" stroke="#111" stroke-width="1.2"/>
<line x1="631.75" y1="83.80" x2="637.75" y2="83.80" stroke="#111" stroke-width="1.2"/>
<rect x="651.95" y="95.04" width="14.00" height="97.46" fill="#f4a3aa" stroke="#f51d1d" stroke-width="1.3"/>
<line x1="658.95" y1="92.12" x2="658.95" y2="97.96" stroke="#f51d1d" stroke-width="1.2"/>
<line x1="655.95" y1="92.12" x2="661.95" y2="92.12" stroke="#f51d1d" stroke-width="1.2"/>
<line x1="655.95" y1="97.96" x2="661.95" y2="97.96" stroke="#f51d1d" stroke-width="1.2"/>
<circle cx="634.70" cy="74.76" r="2.2" fill="#000"/>
<circle cx="630.80" cy="79.14" r="1.8" fill="#fff" stroke="#111" stroke-width="1.2"/>
<circle cx="634.40" cy="80.01" r="1.8" fill="#fff" stroke="#111" stroke-width="1.2"/>
<circle cx="638.30" cy="82.05" r="1.8" fill="#fff" stroke="#111" stroke-width="1.2"/>
<circle cx="634.40" cy="88.04" r="1.8" fill="#fff" stroke="#111" stroke-width="1.2"/>
<rect x="653.40" y="88.80" width="4.60" height="4.60" fill="#f51d1d"/>
<rect x="660.60" y="88.76" width="3.80" height="3.80" fill="#fff" stroke="#f51d1d" stroke-width="1.2"/>
<rect x="657.10" y="94.31" width="3.80" height="3.80" fill="#fff" stroke="#f51d1d" stroke-width="1.2"/>
<rect x="657.10" y="100.87" width="3.80" height="3.80" fill="#fff" stroke="#f51d1d" stroke-width="1.2"/>
<line x1="618.00" y1="192.50" x2="675.00" y2="192.50" stroke="#1a1a1a" stroke-width="1.4"/>
<line x1="634.70" y1="192.50" x2="634.70" y2="196.30" stroke="#1a1a1a" stroke-width="1.4"/>
<line x1="659.00" y1="192.50" x2="659.00" y2="196.30" stroke="#1a1a1a" stroke-width="1.4"/>
<text x="634.70" y="207.60" font-size="9.5" font-weight="bold" text-anchor="middle">WT</text>
<text x="659.00" y="207.60" font-size="9.5" font-weight="bold" text-anchor="middle">KO</text>
<text x="647.00" y="53.80" font-size="8.2" font-style="italic" text-anchor="middle" fill="#222" stroke="#222" stroke-width="0.2">0.0107</text>
<line x1="634.90" y1="59.20" x2="658.90" y2="59.20" stroke="#222" stroke-width="1.15"/>
<text x="1.30" y="251.00" font-size="16.3" font-weight="bold">e</text>
<text x="64.80" y="261.00" font-size="10" font-weight="bold" text-anchor="middle">D3</text>
<line x1="37.40" y1="264.50" x2="91.20" y2="264.50" stroke="#111" stroke-width="1.4" stroke-dasharray="2.8 1.9"/>
<text x="49.20" y="276.30" font-size="10" font-weight="bold" text-anchor="middle">Veh</text>
<text x="77.10" y="276.30" font-size="10" font-weight="bold" text-anchor="middle" fill="#f0902e">Abema</text>
<line x1="38.70" y1="279.40" x2="61.70" y2="279.40" stroke="#111" stroke-width="1.7"/>
<line x1="66.00" y1="279.40" x2="89.80" y2="279.40" stroke="#f0902e" stroke-width="1.7"/>
<line x1="97.70" y1="255.30" x2="97.70" y2="283.00" stroke="#222" stroke-width="1"/>
<text x="148.40" y="261.20" font-size="10" font-weight="bold" text-anchor="middle">D32</text>
<line x1="102.80" y1="265.00" x2="198.60" y2="265.00" stroke="#111" stroke-width="1.4" stroke-dasharray="2.8 1.9"/>
<text x="125.20" y="276.30" font-size="10" font-weight="bold" text-anchor="middle">Veh</text>
<text x="174.40" y="276.30" font-size="10" font-weight="bold" text-anchor="middle" fill="#f0902e">Abema</text>
<line x1="103.30" y1="279.40" x2="148.00" y2="279.40" stroke="#111" stroke-width="1.7"/>
<line x1="151.20" y1="279.40" x2="198.00" y2="279.40" stroke="#f0902e" stroke-width="1.7"/>
<rect x="40.10" y="285.30" width="160.40" height="22.30" fill="#f1f1f1" stroke="#c8c8c8" stroke-width="1.4"/>
<rect x="43.65" y="293.80" width="10.50" height="4.80" rx="2.40" fill="#9e9e9e" filter="url(#bl)"/>
<rect x="55.15" y="293.80" width="10.50" height="4.80" rx="2.40" fill="#999999" filter="url(#bl)"/>
<rect x="66.95" y="293.80" width="10.50" height="4.80" rx="2.40" fill="#595959" filter="url(#bl)"/>
<rect x="78.75" y="293.80" width="10.50" height="4.80" rx="2.40" fill="#616161" filter="url(#bl)"/>
<rect x="102.25" y="293.80" width="10.50" height="4.80" rx="2.40" fill="#949494" filter="url(#bl)"/>
<rect x="114.95" y="293.80" width="10.50" height="4.80" rx="2.40" fill="#9e9e9e" filter="url(#bl)"/>
<rect x="127.35" y="293.80" width="10.50" height="4.80" rx="2.40" fill="#9e9e9e" filter="url(#bl)"/>
<rect x="139.75" y="293.80" width="10.50" height="4.80" rx="2.40" fill="#9e9e9e" filter="url(#bl)"/>
<rect x="151.75" y="293.80" width="10.50" height="4.80" rx="2.40" fill="#0d0d0d" filter="url(#bl)"/>
<rect x="163.95" y="293.80" width="10.50" height="4.80" rx="2.40" fill="#080808" filter="url(#bl)"/>
<rect x="175.85" y="293.80" width="10.50" height="4.80" rx="2.40" fill="#4d4d4d" filter="url(#bl)"/>
<rect x="187.55" y="293.80" width="10.50" height="4.80" rx="2.40" fill="#474747" filter="url(#bl)"/>
<text x="38.50" y="299.30" font-size="10" text-anchor="end" stroke="#000" stroke-width="0.2">CDK4</text>
<line x1="200.90" y1="291.20" x2="206.10" y2="291.20" stroke="#1a1a1a" stroke-width="1.4"/>
<text x="208.00" y="294.17" font-size="8.25" stroke="#000" stroke-width="0.2">35kDa</text>
<rect x="40.10" y="310.30" width="160.40" height="19.20" fill="#f3f3f3" stroke="#c8c8c8" stroke-width="1.4"/>
<rect x="43.65" y="317.20" width="10.50" height="4.80" rx="2.40" fill="#adadad" filter="url(#bl)"/>
<rect x="55.15" y="317.20" width="10.50" height="4.80" rx="2.40" fill="#9e9e9e" filter="url(#bl)"/>
<rect x="66.95" y="317.20" width="10.50" height="4.80" rx="2.40" fill="#8c8c8c" filter="url(#bl)"/>
<rect x="78.75" y="317.20" width="10.50" height="4.80" rx="2.40" fill="#7a7a7a" filter="url(#bl)"/>
<rect x="102.25" y="317.20" width="10.50" height="4.80" rx="2.40" fill="#a3a3a3" filter="url(#bl)"/>
<rect x="114.95" y="317.20" width="10.50" height="4.80" rx="2.40" fill="#a8a8a8" filter="url(#bl)"/>
<rect x="127.35" y="317.20" width="10.50" height="4.80" rx="2.40" fill="#999999" filter="url(#bl)"/>
<rect x="139.75" y="317.20" width="10.50" height="4.80" rx="2.40" fill="#9e9e9e" filter="url(#bl)"/>
<rect x="151.75" y="317.20" width="10.50" height="4.80" rx="2.40" fill="#575757" filter="url(#bl)"/>
<rect x="163.95" y="317.20" width="10.50" height="4.80" rx="2.40" fill="#4d4d4d" filter="url(#bl)"/>
<rect x="175.85" y="317.20" width="10.50" height="4.80" rx="2.40" fill="#6b6b6b" filter="url(#bl)"/>
<rect x="187.55" y="317.20" width="10.50" height="4.80" rx="2.40" fill="#404040" filter="url(#bl)"/>
<text x="38.50" y="323.00" font-size="10" text-anchor="end" stroke="#000" stroke-width="0.2">CDK6</text>
<line x1="200.90" y1="321.80" x2="206.10" y2="321.80" stroke="#1a1a1a" stroke-width="1.4"/>
<text x="208.00" y="324.77" font-size="8.25" stroke="#000" stroke-width="0.2">35kDa</text>
<rect x="40.10" y="331.80" width="160.40" height="21.60" fill="#d0d0d0" stroke="#c8c8c8" stroke-width="1.4"/>
<rect x="43.65" y="340.20" width="10.50" height="4.60" rx="2.30" fill="#080808" filter="url(#bl)"/>
<rect x="55.15" y="340.70" width="10.50" height="4.60" rx="2.30" fill="#080808" filter="url(#bl)"/>
<rect x="66.95" y="340.70" width="10.50" height="4.60" rx="2.30" fill="#999999" filter="url(#bl)"/>
<rect x="78.75" y="339.70" width="10.50" height="4.60" rx="2.30" fill="#a6a6a6" filter="url(#bl)"/>
<rect x="102.25" y="340.20" width="10.50" height="4.60" rx="2.30" fill="#191919" filter="url(#bl)"/>
<rect x="114.95" y="340.70" width="10.50" height="4.60" rx="2.30" fill="#0d0d0d" filter="url(#bl)"/>
<rect x="127.35" y="340.70" width="10.50" height="4.60" rx="2.30" fill="#0d0d0d" filter="url(#bl)"/>
<rect x="139.75" y="340.20" width="10.50" height="4.60" rx="2.30" fill="#0d0d0d" filter="url(#bl)"/>
<rect x="151.75" y="339.70" width="10.50" height="4.60" rx="2.30" fill="#666666" filter="url(#bl)"/>
<rect x="163.95" y="339.20" width="10.50" height="4.60" rx="2.30" fill="#808080" filter="url(#bl)"/>
<rect x="175.85" y="338.70" width="10.50" height="4.60" rx="2.30" fill="#8c8c8c" filter="url(#bl)"/>
<rect x="187.55" y="338.20" width="10.50" height="4.60" rx="2.30" fill="#999999" filter="url(#bl)"/>
<text x="38.50" y="346.00" font-size="10" text-anchor="end" stroke="#000" stroke-width="0.2"><tspan font-size="7.00" dy="-3.80">S780</tspan><tspan dy="3.80">RB</tspan></text>
<line x1="200.90" y1="349.90" x2="206.10" y2="349.90" stroke="#1a1a1a" stroke-width="1.4"/>
<text x="208.00" y="352.87" font-size="8.25" stroke="#000" stroke-width="0.2">100kDa</text>
<rect x="40.10" y="355.50" width="160.40" height="21.00" fill="#f5f5f5" stroke="#c8c8c8" stroke-width="1.4"/>
<rect x="43.65" y="363.70" width="10.50" height="4.60" rx="2.30" fill="#0d0d0d" filter="url(#bl)"/>
<rect x="55.15" y="364.20" width="10.50" height="4.60" rx="2.30" fill="#050505" filter="url(#bl)"/>
<rect x="66.95" y="364.20" width="10.50" height="4.60" rx="2.30" fill="#8c8c8c" filter="url(#bl)"/>
<rect x="78.75" y="363.70" width="10.50" height="4.60" rx="2.30" fill="#a6a6a6" filter="url(#bl)"/>
<rect x="102.25" y="363.70" width="10.50" height="4.60" rx="2.30" fill="#141414" filter="url(#bl)"/>
<rect x="114.95" y="364.20" width="10.50" height="4.60" rx="2.30" fill="#050505" filter="url(#bl)"/>
<rect x="127.35" y="364.70" width="10.50" height="4.60" rx="2.30" fill="#030303" filter="url(#bl)"/>
<rect x="139.75" y="363.70" width="10.50" height="4.60" rx="2.30" fill="#080808" filter="url(#bl)"/>
<rect x="151.75" y="363.20" width="10.50" height="4.60" rx="2.30" fill="#404040" filter="url(#bl)"/>
<rect x="163.95" y="362.70" width="10.50" height="4.60" rx="2.30" fill="#737373" filter="url(#bl)"/>
<rect x="175.85" y="362.20" width="10.50" height="4.60" rx="2.30" fill="#808080" filter="url(#bl)"/>
<rect x="187.55" y="361.20" width="10.50" height="4.60" rx="2.30" fill="#8c8c8c" filter="url(#bl)"/>
<text x="38.50" y="369.80" font-size="10" text-anchor="end" stroke="#000" stroke-width="0.2">RB</text>
<line x1="200.90" y1="373.70" x2="206.10" y2="373.70" stroke="#1a1a1a" stroke-width="1.4"/>
<text x="208.00" y="376.67" font-size="8.25" stroke="#000" stroke-width="0.2">100kDa</text>
<rect x="40.10" y="382.90" width="160.40" height="19.70" fill="#f8f8f8" stroke="#c8c8c8" stroke-width="1.4"/>
<rect x="43.65" y="390.20" width="10.50" height="4.20" rx="2.10" fill="#404040" filter="url(#bl)"/>
<rect x="55.15" y="390.20" width="10.50" height="4.20" rx="2.10" fill="#333333" filter="url(#bl)"/>
<rect x="66.95" y="390.20" width="10.50" height="4.20" rx="2.10" fill="#333333" filter="url(#bl)"/>
<rect x="78.75" y="390.20" width="10.50" height="4.20" rx="2.10" fill="#4d4d4d" filter="url(#bl)"/>
<rect x="102.25" y="390.20" width="10.50" height="4.20" rx="2.10" fill="#383838" filter="url(#bl)"/>
<rect x="114.95" y="390.20" width="10.50" height="4.20" rx="2.10" fill="#333333" filter="url(#bl)"/>
<rect x="127.35" y="390.20" width="10.50" height="4.20" rx="2.10" fill="#2e2e2e" filter="url(#bl)"/>
<rect x="139.75" y="390.20" width="10.50" height="4.20" rx="2.10" fill="#2e2e2e" filter="url(#bl)"/>
<rect x="151.75" y="390.20" width="10.50" height="4.20" rx="2.10" fill="#383838" filter="url(#bl)"/>
<rect x="163.95" y="390.20" width="10.50" height="4.20" rx="2.10" fill="#383838" filter="url(#bl)"/>
<rect x="175.85" y="390.20" width="10.50" height="4.20" rx="2.10" fill="#333333" filter="url(#bl)"/>
<rect x="187.55" y="390.20" width="10.50" height="4.20" rx="2.10" fill="#383838" filter="url(#bl)"/>
<text x="38.50" y="395.70" font-size="10" text-anchor="end" stroke="#000" stroke-width="0.2">TUB</text>
<line x1="200.90" y1="392.40" x2="206.10" y2="392.40" stroke="#1a1a1a" stroke-width="1.4"/>
<text x="208.00" y="395.37" font-size="8.25" stroke="#000" stroke-width="0.2">55kDa</text>
<rect x="39.20" y="407.50" width="161.30" height="54.50" fill="#ececec" stroke="#c8c8c8" stroke-width="1.4"/>
<rect x="43.40" y="408.50" width="11.60" height="52.50" fill="url(#memg2)" filter="url(#bl2)"/>
<rect x="57.00" y="408.50" width="11.60" height="52.50" fill="url(#memg2)" filter="url(#bl2)"/>
<rect x="70.70" y="408.50" width="11.60" height="52.50" fill="url(#memg2)" filter="url(#bl2)"/>
<rect x="84.30" y="408.50" width="11.60" height="52.50" fill="url(#memg2)" filter="url(#bl2)"/>
<rect x="102.90" y="408.50" width="11.60" height="52.50" fill="url(#memg2)" filter="url(#bl2)"/>
<rect x="115.30" y="408.50" width="11.60" height="52.50" fill="url(#memg2)" filter="url(#bl2)"/>
<rect x="127.70" y="408.50" width="11.60" height="52.50" fill="url(#memg2)" filter="url(#bl2)"/>
<rect x="140.20" y="408.50" width="11.60" height="52.50" fill="url(#memg2)" filter="url(#bl2)"/>
<rect x="152.10" y="408.50" width="11.60" height="52.50" fill="url(#memg2)" filter="url(#bl2)"/>
<rect x="163.70" y="408.50" width="11.60" height="52.50" fill="url(#memg2)" filter="url(#bl2)"/>
<rect x="175.60" y="408.50" width="11.60" height="52.50" fill="url(#memg2)" filter="url(#bl2)"/>
<rect x="187.30" y="408.50" width="11.60" height="52.50" fill="url(#memg2)" filter="url(#bl2)"/>
<rect x="95.80" y="409.30" width="6" height="2.2" rx="1.1" fill="#999999" filter="url(#bl)"/>
<rect x="95.80" y="414.60" width="6" height="2.4" rx="1.2" fill="#999999" filter="url(#bl)"/>
<rect x="95.80" y="419.00" width="6" height="3.6" rx="1.8" fill="#8c8c8c" filter="url(#bl)"/>
<rect x="95.80" y="426.60" width="6" height="3.4" rx="1.7" fill="#8c8c8c" filter="url(#bl)"/>
<rect x="95.80" y="434.80" width="6" height="2.4" rx="1.2" fill="#949494" filter="url(#bl)"/>
<rect x="95.80" y="443.30" width="6" height="2.6" rx="1.3" fill="#949494" filter="url(#bl)"/>
<rect x="95.80" y="452.20" width="6" height="2.6" rx="1.3" fill="#949494" filter="url(#bl)"/>
<text x="38.00" y="431.80" font-size="10" text-anchor="end" stroke="#000" stroke-width="0.2">MEM</text>
<text x="38.00" y="443.50" font-size="10" text-anchor="end" stroke="#000" stroke-width="0.2">code</text>
<line x1="200.90" y1="416.30" x2="206.10" y2="416.30" stroke="#1a1a1a" stroke-width="1.4"/>
<text x="208.00" y="416.27" font-size="8.25" stroke="#000" stroke-width="0.2">100kDa</text>
<line x1="200.90" y1="421.20" x2="206.10" y2="421.20" stroke="#1a1a1a" stroke-width="1.4"/>
<text x="208.00" y="425.37" font-size="8.25" stroke="#000" stroke-width="0.2">70kDa</text>
<line x1="200.90" y1="428.50" x2="206.10" y2="428.50" stroke="#1a1a1a" stroke-width="1.4"/>
<text x="208.00" y="433.17" font-size="8.25" stroke="#000" stroke-width="0.2">55kDa</text>
<line x1="200.90" y1="445.20" x2="206.10" y2="445.20" stroke="#1a1a1a" stroke-width="1.4"/>
<text x="208.00" y="448.17" font-size="8.25" stroke="#000" stroke-width="0.2">35kDa</text>
<line x1="200.90" y1="454.40" x2="206.10" y2="454.40" stroke="#1a1a1a" stroke-width="1.4"/>
<text x="208.00" y="456.87" font-size="8.25" stroke="#000" stroke-width="0.2">25kDa</text>
<text x="240.30" y="251.00" font-size="16.3" font-weight="bold">f</text>
<circle cx="301.00" cy="247.60" r="1.4" fill="#000"/>
<text x="308.90" y="251.30" font-size="10" stroke="#000" stroke-width="0.2">Veh</text>
<rect x="335.70" y="246.10" width="3.00" height="3.00" fill="#f0902e"/>
<text x="345.00" y="251.30" font-size="10" stroke="#000" stroke-width="0.2">Abema</text>
<text x="0" y="0" font-size="8.6" font-weight="bold" text-anchor="middle" transform="translate(261.70,302.20) rotate(-90)">Relative CDK4 protein</text>
<text x="0" y="0" font-size="8.6" font-weight="bold" text-anchor="middle" transform="translate(270.50,304.60) rotate(-90)">levels (vs. TUB)</text>
<line x1="284.30" y1="264.57" x2="284.30" y2="344.20" stroke="#1a1a1a" stroke-width="1.4"/>
<line x1="280.90" y1="343.50" x2="284.30" y2="343.50" stroke="#1a1a1a" stroke-width="1.4"/>
<text x="279.90" y="346.78" font-size="9.1" font-weight="bold" text-anchor="end">0</text>
<line x1="280.90" y1="317.19" x2="284.30" y2="317.19" stroke="#1a1a1a" stroke-width="1.4"/>
<text x="279.90" y="320.47" font-size="9.1" font-weight="bold" text-anchor="end">3</text>
<line x1="280.90" y1="290.88" x2="284.30" y2="290.88" stroke="#1a1a1a" stroke-width="1.4"/>
<text x="279.90" y="294.16" font-size="9.1" font-weight="bold" text-anchor="end">6</text>
<line x1="280.90" y1="264.57" x2="284.30" y2="264.57" stroke="#1a1a1a" stroke-width="1.4"/>
<text x="279.90" y="267.85" font-size="9.1" font-weight="bold" text-anchor="end">9</text>
<rect x="288.65" y="334.73" width="6.70" height="8.77" fill="#9a9b9e" stroke="#111" stroke-width="1.3"/>
<line x1="292.00" y1="333.50" x2="292.00" y2="335.96" stroke="#111" stroke-width="1.2"/>
<line x1="289.75" y1="333.50" x2="294.25" y2="333.50" stroke="#111" stroke-width="1.2"/>
<line x1="289.75" y1="335.96" x2="294.25" y2="335.96" stroke="#111" stroke-width="1.2"/>
<circle cx="292.00" cy="332.98" r="1.3" fill="#000"/>
<circle cx="292.00" cy="334.73" r="1.3" fill="#000"/>
<circle cx="292.00" cy="335.78" r="1.3" fill="#000"/>
<rect x="298.65" y="317.80" width="6.40" height="25.70" fill="#fae3c6" stroke="#f0902e" stroke-width="1.3"/>
<line x1="301.85" y1="317.45" x2="301.85" y2="318.15" stroke="#f0902e" stroke-width="1.2"/>
<line x1="299.60" y1="317.45" x2="304.10" y2="317.45" stroke="#f0902e" stroke-width="1.2"/>
<line x1="299.60" y1="318.15" x2="304.10" y2="318.15" stroke="#f0902e" stroke-width="1.2"/>
<rect x="298.55" y="315.71" width="2.60" height="2.60" fill="#f0902e"/>
<rect x="302.55" y="316.07" width="2.60" height="2.60" fill="#f0902e"/>
<rect x="300.55" y="316.59" width="2.60" height="2.60" fill="#f0902e"/>
<rect x="315.95" y="330.35" width="6.40" height="13.15" fill="#9a9b9e" stroke="#111" stroke-width="1.3"/>
<line x1="319.15" y1="329.73" x2="319.15" y2="330.96" stroke="#111" stroke-width="1.2"/>
<line x1="316.90" y1="329.73" x2="321.40" y2="329.73" stroke="#111" stroke-width="1.2"/>
<line x1="316.90" y1="330.96" x2="321.40" y2="330.96" stroke="#111" stroke-width="1.2"/>
<circle cx="316.65" cy="328.77" r="1.3" fill="#000"/>
<circle cx="319.15" cy="329.29" r="1.3" fill="#000"/>
<circle cx="321.65" cy="329.64" r="1.3" fill="#000"/>
<circle cx="319.15" cy="330.35" r="1.3" fill="#000"/>
<rect x="325.35" y="300.53" width="6.70" height="42.97" fill="#fae3c6" stroke="#f0902e" stroke-width="1.3"/>
<line x1="328.70" y1="294.83" x2="328.70" y2="306.23" stroke="#f0902e" stroke-width="1.2"/>
<line x1="326.45" y1="294.83" x2="330.95" y2="294.83" stroke="#f0902e" stroke-width="1.2"/>
<line x1="326.45" y1="306.23" x2="330.95" y2="306.23" stroke="#f0902e" stroke-width="1.2"/>
<rect x="324.60" y="289.84" width="2.60" height="2.60" fill="#f0902e"/>
<rect x="330.00" y="288.00" width="2.60" height="2.60" fill="#f0902e"/>
<rect x="327.40" y="303.70" width="2.60" height="2.60" fill="#f0902e"/>
<rect x="327.40" y="313.52" width="2.60" height="2.60" fill="#f0902e"/>
<line x1="283.60" y1="343.50" x2="337.00" y2="343.50" stroke="#1a1a1a" stroke-width="1.4"/>
<line x1="297.00" y1="343.50" x2="297.00" y2="347.30" stroke="#1a1a1a" stroke-width="1.4"/>
<line x1="323.80" y1="343.50" x2="323.80" y2="347.30" stroke="#1a1a1a" stroke-width="1.4"/>
<text x="314.60" y="263.50" font-size="7.3" font-style="italic" text-anchor="middle" fill="#222" stroke="#222" stroke-width="0.2">0.0922</text>
<line x1="302.00" y1="267.20" x2="328.50" y2="267.20" stroke="#222" stroke-width="1.15"/>
<text x="323.70" y="277.00" font-size="7.3" font-weight="bold" font-style="italic" text-anchor="middle" fill="#222">0.0021</text>
<line x1="319.20" y1="280.70" x2="328.50" y2="280.70" stroke="#222" stroke-width="1.15"/>
<text x="305.60" y="293.60" font-size="7.3" font-style="italic" text-anchor="middle" fill="#222" stroke="#222" stroke-width="0.2">0.8787</text>
<line x1="292.00" y1="296.80" x2="318.80" y2="296.80" stroke="#222" stroke-width="1.15"/>
<text x="296.60" y="305.70" font-size="7.3" font-style="italic" text-anchor="middle" fill="#222" stroke="#222" stroke-width="0.2">0.1853</text>
<line x1="292.20" y1="309.50" x2="301.40" y2="309.50" stroke="#222" stroke-width="1.15"/>
<text x="0" y="0" font-size="8.4" text-anchor="end" transform="translate(299.30,353.70) rotate(-45)" stroke="#000" stroke-width="0.35">D3</text>
<text x="0" y="0" font-size="8.4" text-anchor="end" transform="translate(326.30,354.10) rotate(-45)" stroke="#000" stroke-width="0.35">D32</text>
<text x="0" y="0" font-size="8.6" font-weight="bold" text-anchor="middle" transform="translate(356.80,302.20) rotate(-90)">Relative CDK6 protein</text>
<text x="0" y="0" font-size="8.6" font-weight="bold" text-anchor="middle" transform="translate(365.80,304.60) rotate(-90)">levels (vs. TUB)</text>
<line x1="379.50" y1="264.40" x2="379.50" y2="343.70" stroke="#1a1a1a" stroke-width="1.4"/>
<line x1="376.10" y1="343.00" x2="379.50" y2="343.00" stroke="#1a1a1a" stroke-width="1.4"/>
<text x="375.10" y="346.28" font-size="9.1" font-weight="bold" text-anchor="end">0</text>
<line x1="376.10" y1="316.80" x2="379.50" y2="316.80" stroke="#1a1a1a" stroke-width="1.4"/>
<text x="375.10" y="320.08" font-size="9.1" font-weight="bold" text-anchor="end">2</text>
<line x1="376.10" y1="290.60" x2="379.50" y2="290.60" stroke="#1a1a1a" stroke-width="1.4"/>
<text x="375.10" y="293.88" font-size="9.1" font-weight="bold" text-anchor="end">4</text>
<line x1="376.10" y1="264.40" x2="379.50" y2="264.40" stroke="#1a1a1a" stroke-width="1.4"/>
<text x="375.10" y="267.68" font-size="9.1" font-weight="bold" text-anchor="end">6</text>
<rect x="383.95" y="329.90" width="6.40" height="13.10" fill="#9a9b9e" stroke="#111" stroke-width="1.3"/>
<line x1="387.15" y1="327.28" x2="387.15" y2="332.52" stroke="#111" stroke-width="1.2"/>
<line x1="384.90" y1="327.28" x2="389.40" y2="327.28" stroke="#111" stroke-width="1.2"/>
<line x1="384.90" y1="332.52" x2="389.40" y2="332.52" stroke="#111" stroke-width="1.2"/>
<circle cx="387.15" cy="327.67" r="1.3" fill="#000"/>
<circle cx="387.15" cy="330.56" r="1.3" fill="#000"/>
<circle cx="387.15" cy="333.57" r="1.3" fill="#000"/>
<rect x="393.85" y="315.49" width="6.20" height="27.51" fill="#fae3c6" stroke="#f0902e" stroke-width="1.3"/>
<line x1="396.95" y1="314.83" x2="396.95" y2="316.14" stroke="#f0902e" stroke-width="1.2"/>
<line x1="394.70" y1="314.83" x2="399.20" y2="314.83" stroke="#f0902e" stroke-width="1.2"/>
<line x1="394.70" y1="316.14" x2="399.20" y2="316.14" stroke="#f0902e" stroke-width="1.2"/>
<rect x="395.65" y="312.88" width="2.60" height="2.60" fill="#f0902e"/>
<rect x="393.65" y="313.93" width="2.60" height="2.60" fill="#f0902e"/>
<rect x="397.65" y="314.84" width="2.60" height="2.60" fill="#f0902e"/>
<rect x="411.15" y="316.14" width="6.20" height="26.86" fill="#9a9b9e" stroke="#111" stroke-width="1.3"/>
<line x1="414.25" y1="315.10" x2="414.25" y2="317.19" stroke="#111" stroke-width="1.2"/>
<line x1="412.00" y1="315.10" x2="416.50" y2="315.10" stroke="#111" stroke-width="1.2"/>
<line x1="412.00" y1="317.19" x2="416.50" y2="317.19" stroke="#111" stroke-width="1.2"/>
<circle cx="412.25" cy="313.52" r="1.3" fill="#000"/>
<circle cx="416.25" cy="315.49" r="1.3" fill="#000"/>
<circle cx="411.75" cy="316.14" r="1.3" fill="#000"/>
<circle cx="416.75" cy="317.06" r="1.3" fill="#000"/>
<rect x="420.65" y="293.88" width="6.40" height="49.12" fill="#fae3c6" stroke="#f0902e" stroke-width="1.3"/>
<line x1="423.85" y1="289.29" x2="423.85" y2="298.46" stroke="#f0902e" stroke-width="1.2"/>
<line x1="421.60" y1="289.29" x2="426.10" y2="289.29" stroke="#f0902e" stroke-width="1.2"/>
<line x1="421.60" y1="298.46" x2="426.10" y2="298.46" stroke="#f0902e" stroke-width="1.2"/>
<rect x="422.55" y="280.00" width="2.60" height="2.60" fill="#f0902e"/>
<rect x="420.05" y="291.92" width="2.60" height="2.60" fill="#f0902e"/>
<rect x="425.05" y="294.54" width="2.60" height="2.60" fill="#f0902e"/>
<rect x="422.55" y="304.10" width="2.60" height="2.60" fill="#f0902e"/>
<line x1="378.80" y1="343.00" x2="432.00" y2="343.00" stroke="#1a1a1a" stroke-width="1.4"/>
<line x1="392.10" y1="343.00" x2="392.10" y2="346.80" stroke="#1a1a1a" stroke-width="1.4"/>
<line x1="419.00" y1="343.00" x2="419.00" y2="346.80" stroke="#1a1a1a" stroke-width="1.4"/>
<text x="410.20" y="260.50" font-size="7.3" font-weight="bold" font-style="italic" text-anchor="middle" fill="#222">0.0209</text>
<line x1="397.00" y1="264.00" x2="423.80" y2="264.00" stroke="#222" stroke-width="1.15"/>
<text x="418.80" y="272.80" font-size="7.3" font-weight="bold" font-style="italic" text-anchor="middle" fill="#222">0.0049</text>
<line x1="414.20" y1="276.50" x2="423.80" y2="276.50" stroke="#222" stroke-width="1.15"/>
<text x="400.60" y="292.20" font-size="7.3" font-style="italic" text-anchor="middle" fill="#222" stroke="#222" stroke-width="0.2">0.1522</text>
<line x1="387.50" y1="295.30" x2="414.20" y2="295.30" stroke="#222" stroke-width="1.15"/>
<text x="392.40" y="304.00" font-size="7.3" font-style="italic" text-anchor="middle" fill="#222" stroke="#222" stroke-width="0.2">0.1833</text>
<line x1="387.50" y1="308.30" x2="397.00" y2="308.30" stroke="#222" stroke-width="1.15"/>
<text x="0" y="0" font-size="8.4" text-anchor="end" transform="translate(394.40,353.50) rotate(-45)" stroke="#000" stroke-width="0.35">D3</text>
<text x="0" y="0" font-size="8.4" text-anchor="end" transform="translate(421.40,353.80) rotate(-45)" stroke="#000" stroke-width="0.35">D32</text>
<text x="0" y="0" font-size="8.6" font-weight="bold" text-anchor="middle" transform="translate(253.40,424.40) rotate(-90)"><tspan>Relative </tspan><tspan font-size="6.4" dy="-3.5">S780</tspan><tspan dy="3.5">RB protein</tspan></text>
<text x="0" y="0" font-size="8.6" font-weight="bold" text-anchor="middle" transform="translate(263.50,424.60) rotate(-90)">levels (vs.TUB)</text>
<line x1="284.30" y1="386.05" x2="284.30" y2="466.10" stroke="#1a1a1a" stroke-width="1.4"/>
<line x1="280.90" y1="465.40" x2="284.30" y2="465.40" stroke="#1a1a1a" stroke-width="1.4"/>
<text x="279.90" y="468.68" font-size="9.1" font-weight="bold" text-anchor="end">0.0</text>
<line x1="280.90" y1="438.95" x2="284.30" y2="438.95" stroke="#1a1a1a" stroke-width="1.4"/>
<text x="279.90" y="442.23" font-size="9.1" font-weight="bold" text-anchor="end">0.5</text>
<line x1="280.90" y1="412.50" x2="284.30" y2="412.50" stroke="#1a1a1a" stroke-width="1.4"/>
<text x="279.90" y="415.78" font-size="9.1" font-weight="bold" text-anchor="end">1.0</text>
<line x1="280.90" y1="386.05" x2="284.30" y2="386.05" stroke="#1a1a1a" stroke-width="1.4"/>
<text x="279.90" y="389.33" font-size="9.1" font-weight="bold" text-anchor="end">1.5</text>
<rect x="288.95" y="412.50" width="6.40" height="52.90" fill="#9a9b9e" stroke="#111" stroke-width="1.3"/>
<line x1="292.15" y1="409.85" x2="292.15" y2="415.14" stroke="#111" stroke-width="1.2"/>
<line x1="289.90" y1="409.85" x2="294.40" y2="409.85" stroke="#111" stroke-width="1.2"/>
<line x1="289.90" y1="415.14" x2="294.40" y2="415.14" stroke="#111" stroke-width="1.2"/>
<circle cx="292.15" cy="408.80" r="1.3" fill="#000"/>
<circle cx="292.15" cy="413.56" r="1.3" fill="#000"/>
<rect x="298.65" y="452.97" width="6.40" height="12.43" fill="#fae3c6" stroke="#f0902e" stroke-width="1.3"/>
<line x1="301.85" y1="451.91" x2="301.85" y2="454.03" stroke="#f0902e" stroke-width="1.2"/>
<line x1="299.60" y1="451.91" x2="304.10" y2="451.91" stroke="#f0902e" stroke-width="1.2"/>
<line x1="299.60" y1="454.03" x2="304.10" y2="454.03" stroke="#f0902e" stroke-width="1.2"/>
<rect x="300.55" y="449.82" width="2.60" height="2.60" fill="#f0902e"/>
<rect x="298.55" y="451.40" width="2.60" height="2.60" fill="#f0902e"/>
<rect x="302.55" y="452.46" width="2.60" height="2.60" fill="#f0902e"/>
<rect x="315.95" y="421.49" width="6.80" height="43.91" fill="#9a9b9e" stroke="#111" stroke-width="1.3"/>
<line x1="319.35" y1="418.85" x2="319.35" y2="424.14" stroke="#111" stroke-width="1.2"/>
<line x1="317.10" y1="418.85" x2="321.60" y2="418.85" stroke="#111" stroke-width="1.2"/>
<line x1="317.10" y1="424.14" x2="321.60" y2="424.14" stroke="#111" stroke-width="1.2"/>
<circle cx="316.55" cy="415.67" r="1.3" fill="#000"/>
<circle cx="322.15" cy="415.67" r="1.3" fill="#000"/>
<circle cx="316.55" cy="425.72" r="1.3" fill="#000"/>
<circle cx="322.15" cy="425.72" r="1.3" fill="#000"/>
<rect x="325.65" y="447.94" width="6.70" height="17.46" fill="#fae3c6" stroke="#f0902e" stroke-width="1.3"/>
<line x1="329.00" y1="446.36" x2="329.00" y2="449.53" stroke="#f0902e" stroke-width="1.2"/>
<line x1="326.75" y1="446.36" x2="331.25" y2="446.36" stroke="#f0902e" stroke-width="1.2"/>
<line x1="326.75" y1="449.53" x2="331.25" y2="449.53" stroke="#f0902e" stroke-width="1.2"/>
<rect x="325.70" y="444.53" width="2.60" height="2.60" fill="#f0902e"/>
<rect x="330.20" y="445.06" width="2.60" height="2.60" fill="#f0902e"/>
<rect x="325.70" y="447.70" width="2.60" height="2.60" fill="#f0902e"/>
<rect x="329.70" y="448.23" width="2.60" height="2.60" fill="#f0902e"/>
<line x1="283.60" y1="465.40" x2="337.00" y2="465.40" stroke="#1a1a1a" stroke-width="1.4"/>
<line x1="297.00" y1="465.40" x2="297.00" y2="469.20" stroke="#1a1a1a" stroke-width="1.4"/>
<line x1="324.20" y1="465.40" x2="324.20" y2="469.20" stroke="#1a1a1a" stroke-width="1.4"/>
<text x="314.50" y="375.00" font-size="7.3" font-style="italic" text-anchor="middle" fill="#222" stroke="#222" stroke-width="0.2">0.6221</text>
<line x1="302.30" y1="377.90" x2="328.80" y2="377.90" stroke="#222" stroke-width="1.15"/>
<text x="305.60" y="387.70" font-size="7.3" font-style="italic" text-anchor="middle" fill="#222" stroke="#222" stroke-width="0.2">0.1601</text>
<line x1="292.50" y1="391.10" x2="319.50" y2="391.10" stroke="#222" stroke-width="1.15"/>
<text x="297.30" y="400.70" font-size="7.3" font-weight="bold" font-style="italic" text-anchor="middle" fill="#222">&lt;0.0001</text>
<line x1="292.50" y1="404.60" x2="301.40" y2="404.60" stroke="#222" stroke-width="1.15"/>
<text x="323.90" y="408.00" font-size="7.3" font-weight="bold" font-style="italic" text-anchor="middle" fill="#222">0.0001</text>
<line x1="319.70" y1="411.00" x2="328.80" y2="411.00" stroke="#222" stroke-width="1.15"/>
<text x="0" y="0" font-size="8.4" text-anchor="end" transform="translate(299.30,475.60) rotate(-45)" stroke="#000" stroke-width="0.35">D3</text>
<text x="0" y="0" font-size="8.4" text-anchor="end" transform="translate(326.30,476.00) rotate(-45)" stroke="#000" stroke-width="0.35">D32</text>
<text x="0" y="0" font-size="8.6" font-weight="bold" text-anchor="middle" transform="translate(349.80,422.00) rotate(-90)"><tspan>Relative </tspan><tspan font-size="6.4" dy="-3.5">S780</tspan><tspan dy="3.5">RB protein</tspan></text>
<text x="0" y="0" font-size="8.6" font-weight="bold" text-anchor="middle" transform="translate(360.20,423.90) rotate(-90)">levels (vs.RB)</text>
<line x1="379.50" y1="385.95" x2="379.50" y2="466.30" stroke="#1a1a1a" stroke-width="1.4"/>
<line x1="376.10" y1="465.60" x2="379.50" y2="465.60" stroke="#1a1a1a" stroke-width="1.4"/>
<text x="375.10" y="468.88" font-size="9.1" font-weight="bold" text-anchor="end">0.0</text>
<line x1="376.10" y1="439.05" x2="379.50" y2="439.05" stroke="#1a1a1a" stroke-width="1.4"/>
<text x="375.10" y="442.33" font-size="9.1" font-weight="bold" text-anchor="end">0.5</text>
<line x1="376.10" y1="412.50" x2="379.50" y2="412.50" stroke="#1a1a1a" stroke-width="1.4"/>
<text x="375.10" y="415.78" font-size="9.1" font-weight="bold" text-anchor="end">1.0</text>
<line x1="376.10" y1="385.95" x2="379.50" y2="385.95" stroke="#1a1a1a" stroke-width="1.4"/>
<text x="375.10" y="389.23" font-size="9.1" font-weight="bold" text-anchor="end">1.5</text>
<rect x="383.65" y="413.03" width="7.10" height="52.57" fill="#9a9b9e" stroke="#111" stroke-width="1.3"/>
<line x1="387.20" y1="409.31" x2="387.20" y2="416.75" stroke="#111" stroke-width="1.2"/>
<line x1="384.95" y1="409.31" x2="389.45" y2="409.31" stroke="#111" stroke-width="1.2"/>
<line x1="384.95" y1="416.75" x2="389.45" y2="416.75" stroke="#111" stroke-width="1.2"/>
<circle cx="387.20" cy="407.19" r="1.3" fill="#000"/>
<circle cx="387.20" cy="416.75" r="1.3" fill="#000"/>
<rect x="393.95" y="438.52" width="6.60" height="27.08" fill="#fae3c6" stroke="#f0902e" stroke-width="1.3"/>
<line x1="397.25" y1="437.46" x2="397.25" y2="439.58" stroke="#f0902e" stroke-width="1.2"/>
<line x1="395.00" y1="437.46" x2="399.50" y2="437.46" stroke="#f0902e" stroke-width="1.2"/>
<line x1="395.00" y1="439.58" x2="399.50" y2="439.58" stroke="#f0902e" stroke-width="1.2"/>
<rect x="395.95" y="435.10" width="2.60" height="2.60" fill="#f0902e"/>
<rect x="393.95" y="436.69" width="2.60" height="2.60" fill="#f0902e"/>
<rect x="397.95" y="437.75" width="2.60" height="2.60" fill="#f0902e"/>
<rect x="411.25" y="421.00" width="6.60" height="44.60" fill="#9a9b9e" stroke="#111" stroke-width="1.3"/>
<line x1="414.55" y1="419.93" x2="414.55" y2="422.06" stroke="#111" stroke-width="1.2"/>
<line x1="412.30" y1="419.93" x2="416.80" y2="419.93" stroke="#111" stroke-width="1.2"/>
<line x1="412.30" y1="422.06" x2="416.80" y2="422.06" stroke="#111" stroke-width="1.2"/>
<circle cx="412.05" cy="419.40" r="1.3" fill="#000"/>
<circle cx="417.05" cy="420.47" r="1.3" fill="#000"/>
<circle cx="414.55" cy="421.00" r="1.3" fill="#000"/>
<circle cx="414.55" cy="422.06" r="1.3" fill="#000"/>
<rect x="421.15" y="422.06" width="7.00" height="43.54" fill="#fae3c6" stroke="#f0902e" stroke-width="1.3"/>
<line x1="424.65" y1="419.40" x2="424.65" y2="424.71" stroke="#f0902e" stroke-width="1.2"/>
<line x1="422.40" y1="419.40" x2="426.90" y2="419.40" stroke="#f0902e" stroke-width="1.2"/>
<line x1="422.40" y1="424.71" x2="426.90" y2="424.71" stroke="#f0902e" stroke-width="1.2"/>
<rect x="421.35" y="416.51" width="2.60" height="2.60" fill="#f0902e"/>
<rect x="425.85" y="419.17" width="2.60" height="2.60" fill="#f0902e"/>
<rect x="423.35" y="421.82" width="2.60" height="2.60" fill="#f0902e"/>
<rect x="423.35" y="432.44" width="2.60" height="2.60" fill="#f0902e"/>
<line x1="378.80" y1="465.60" x2="432.00" y2="465.60" stroke="#1a1a1a" stroke-width="1.4"/>
<line x1="392.20" y1="465.60" x2="392.20" y2="469.40" stroke="#1a1a1a" stroke-width="1.4"/>
<line x1="419.50" y1="465.60" x2="419.50" y2="469.40" stroke="#1a1a1a" stroke-width="1.4"/>
<text x="402.20" y="374.20" font-size="7.3" font-style="italic" text-anchor="middle" fill="#222" stroke="#222" stroke-width="0.2">0.3521</text>
<line x1="387.40" y1="378.20" x2="415.00" y2="378.20" stroke="#222" stroke-width="1.15"/>
<text x="410.70" y="387.40" font-size="7.3" font-weight="bold" font-style="italic" text-anchor="middle" fill="#222">0.0483</text>
<line x1="396.70" y1="391.40" x2="424.40" y2="391.40" stroke="#222" stroke-width="1.15"/>
<text x="392.50" y="399.20" font-size="7.3" font-weight="bold" font-style="italic" text-anchor="middle" fill="#222">0.0053</text>
<line x1="387.40" y1="402.80" x2="397.30" y2="402.80" stroke="#222" stroke-width="1.15"/>
<text x="419.70" y="408.50" font-size="7.3" font-style="italic" text-anchor="middle" fill="#222" stroke="#222" stroke-width="0.2">0.8570</text>
<line x1="415.00" y1="412.00" x2="424.40" y2="412.00" stroke="#222" stroke-width="1.15"/>
<text x="0" y="0" font-size="8.4" text-anchor="end" transform="translate(394.40,475.80) rotate(-45)" stroke="#000" stroke-width="0.35">D3</text>
<text x="0" y="0" font-size="8.4" text-anchor="end" transform="translate(421.40,476.20) rotate(-45)" stroke="#000" stroke-width="0.35">D32</text>
<text x="439.60" y="252.50" font-size="16.3" font-weight="bold">g</text>
<text x="0" y="0" font-size="10.3" font-weight="bold" text-anchor="middle" transform="translate(459.20,356.00) rotate(-90)">Cumulative population doubling</text>
<line x1="483.10" y1="289.05" x2="483.10" y2="425.85" stroke="#1a1a1a" stroke-width="1.5"/>
<line x1="477.70" y1="425.10" x2="483.10" y2="425.10" stroke="#1a1a1a" stroke-width="1.5"/>
<text x="475.70" y="428.34" font-size="9" font-weight="bold" text-anchor="end">0</text>
<line x1="477.70" y1="402.43" x2="483.10" y2="402.43" stroke="#1a1a1a" stroke-width="1.5"/>
<text x="475.70" y="405.67" font-size="9" font-weight="bold" text-anchor="end">5</text>
<line x1="477.70" y1="379.75" x2="483.10" y2="379.75" stroke="#1a1a1a" stroke-width="1.5"/>
<text x="475.70" y="382.99" font-size="9" font-weight="bold" text-anchor="end">10</text>
<line x1="477.70" y1="357.08" x2="483.10" y2="357.08" stroke="#1a1a1a" stroke-width="1.5"/>
<text x="475.70" y="360.32" font-size="9" font-weight="bold" text-anchor="end">15</text>
<line x1="477.70" y1="334.40" x2="483.10" y2="334.40" stroke="#1a1a1a" stroke-width="1.5"/>
<text x="475.70" y="337.64" font-size="9" font-weight="bold" text-anchor="end">20</text>
<line x1="477.70" y1="311.73" x2="483.10" y2="311.73" stroke="#1a1a1a" stroke-width="1.5"/>
<text x="475.70" y="314.97" font-size="9" font-weight="bold" text-anchor="end">25</text>
<line x1="477.70" y1="289.05" x2="483.10" y2="289.05" stroke="#1a1a1a" stroke-width="1.5"/>
<text x="475.70" y="292.29" font-size="9" font-weight="bold" text-anchor="end">30</text>
<line x1="529.20" y1="322.00" x2="529.20" y2="425.10" stroke="#333" stroke-width="0.9" stroke-dasharray="2 1.4"/>
<polyline points="483.20,425.10 498.50,415.58 513.80,408.32 518.90,406.51 529.10,397.89 536.75,390.18 544.40,384.74 549.50,379.30 554.60,376.12 567.35,363.42" fill="none" stroke="#f0902e" stroke-width="0.9"/>
<rect x="497.10" y="414.18" width="2.80" height="2.80" fill="#f0902e"/>
<rect x="512.40" y="406.92" width="2.80" height="2.80" fill="#f0902e"/>
<rect x="517.50" y="405.11" width="2.80" height="2.80" fill="#f0902e"/>
<rect x="527.70" y="396.49" width="2.80" height="2.80" fill="#f0902e"/>
<rect x="535.35" y="388.78" width="2.80" height="2.80" fill="#f0902e"/>
<rect x="543.00" y="383.34" width="2.80" height="2.80" fill="#f0902e"/>
<rect x="548.10" y="377.90" width="2.80" height="2.80" fill="#f0902e"/>
<rect x="553.20" y="374.72" width="2.80" height="2.80" fill="#f0902e"/>
<rect x="565.95" y="362.02" width="2.80" height="2.80" fill="#f0902e"/>
<polyline points="483.20,425.10 498.50,423.51 506.15,421.02 518.90,417.16 529.10,419.88 536.75,417.62 552.05,408.77 562.25,401.97" fill="none" stroke="#f0902e" stroke-width="0.9"/>
<rect x="497.10" y="422.11" width="2.80" height="2.80" fill="#f0902e"/>
<rect x="504.75" y="419.62" width="2.80" height="2.80" fill="#f0902e"/>
<rect x="517.50" y="415.76" width="2.80" height="2.80" fill="#f0902e"/>
<rect x="527.70" y="418.48" width="2.80" height="2.80" fill="#f0902e"/>
<rect x="535.35" y="416.22" width="2.80" height="2.80" fill="#f0902e"/>
<rect x="550.65" y="407.37" width="2.80" height="2.80" fill="#f0902e"/>
<rect x="560.85" y="400.57" width="2.80" height="2.80" fill="#f0902e"/>
<polyline points="483.20,425.10 498.50,406.51 513.80,390.18 529.10,372.95 536.75,360.70 549.50,341.66 562.25,324.42" fill="none" stroke="#111" stroke-width="0.9"/>
<circle cx="498.50" cy="406.51" r="1.5" fill="#000"/>
<circle cx="513.80" cy="390.18" r="1.5" fill="#000"/>
<circle cx="529.10" cy="372.95" r="1.5" fill="#000"/>
<circle cx="536.75" cy="360.70" r="1.5" fill="#000"/>
<circle cx="549.50" cy="341.66" r="1.5" fill="#000"/>
<circle cx="562.25" cy="324.42" r="1.5" fill="#000"/>
<polyline points="483.20,425.10 498.50,406.51 518.90,388.82 529.10,370.68 544.40,354.35 554.60,341.66 567.35,324.42" fill="none" stroke="#111" stroke-width="0.9"/>
<circle cx="498.50" cy="406.51" r="1.5" fill="#000"/>
<circle cx="518.90" cy="388.82" r="1.5" fill="#000"/>
<circle cx="529.10" cy="370.68" r="1.5" fill="#000"/>
<circle cx="544.40" cy="354.35" r="1.5" fill="#000"/>
<circle cx="554.60" cy="341.66" r="1.5" fill="#000"/>
<circle cx="567.35" cy="324.42" r="1.5" fill="#000"/>
<polyline points="483.20,425.10 498.50,415.58 506.15,407.41 518.90,400.61 529.10,396.08 536.75,387.01 552.05,372.04 562.25,366.15" fill="none" stroke="#111" stroke-width="0.9"/>
<circle cx="498.50" cy="415.58" r="1.5" fill="#000"/>
<circle cx="506.15" cy="407.41" r="1.5" fill="#000"/>
<circle cx="518.90" cy="400.61" r="1.5" fill="#000"/>
<circle cx="529.10" cy="396.08" r="1.5" fill="#000"/>
<circle cx="536.75" cy="387.01" r="1.5" fill="#000"/>
<circle cx="552.05" cy="372.04" r="1.5" fill="#000"/>
<circle cx="562.25" cy="366.15" r="1.5" fill="#000"/>
<line x1="482.35" y1="425.10" x2="571.00" y2="425.10" stroke="#1a1a1a" stroke-width="1.5"/>
<line x1="483.20" y1="425.10" x2="483.20" y2="430.70" stroke="#1a1a1a" stroke-width="1.5"/>
<line x1="508.70" y1="425.10" x2="508.70" y2="430.70" stroke="#1a1a1a" stroke-width="1.5"/>
<line x1="534.20" y1="425.10" x2="534.20" y2="430.70" stroke="#1a1a1a" stroke-width="1.5"/>
<line x1="559.70" y1="425.10" x2="559.70" y2="430.70" stroke="#1a1a1a" stroke-width="1.5"/>
<text x="483.20" y="441.20" font-size="9" font-weight="bold" text-anchor="middle">0</text>
<text x="508.70" y="441.20" font-size="9" font-weight="bold" text-anchor="middle">10</text>
<text x="534.20" y="441.20" font-size="9" font-weight="bold" text-anchor="middle">20</text>
<text x="559.70" y="441.20" font-size="9" font-weight="bold" text-anchor="middle">30</text>
<text x="528.00" y="458.00" font-size="10" font-weight="bold" text-anchor="middle">Time (Days)</text>
<line x1="504.00" y1="289.70" x2="520.50" y2="289.70" stroke="#222" stroke-width="1"/>
<circle cx="512.25" cy="289.70" r="1.4" fill="#222"/>
<line x1="504.00" y1="305.00" x2="520.50" y2="305.00" stroke="#f0902e" stroke-width="1"/>
<rect x="510.85" y="303.60" width="2.80" height="2.80" fill="#f0902e"/>
<text x="526.00" y="293.30" font-size="10" fill="#222" stroke="#222" stroke-width="0.2">Veh</text>
<text x="526.00" y="308.60" font-size="10" fill="#222" stroke="#222" stroke-width="0.2">Abema</text>
<text x="576.00" y="253.60" font-size="16.3" font-weight="bold">h</text>
<circle cx="598.00" cy="250.80" r="2.0" fill="#fff" stroke="#111" stroke-width="1.2"/>
<text x="610.80" y="254.30" font-size="10.3" stroke="#000" stroke-width="0.2">Veh</text>
<rect x="636.20" y="248.40" width="4.40" height="4.40" fill="#fff" stroke="#f0902e" stroke-width="1.3"/>
<text x="651.60" y="254.30" font-size="10.3" stroke="#000" stroke-width="0.2">Abema</text>
<text x="0" y="0" font-size="10" font-weight="bold" text-anchor="middle" transform="translate(593.00,349.70) rotate(-90)"><tspan>Population doubling day</tspan><tspan font-size="6.5" dy="-4">-1</tspan></text>
<line x1="618.40" y1="278.50" x2="618.40" y2="425.20" stroke="#1a1a1a" stroke-width="1.4"/>
<line x1="613.60" y1="424.50" x2="618.40" y2="424.50" stroke="#1a1a1a" stroke-width="1.4"/>
<text x="612.00" y="427.70" font-size="8.9" font-weight="bold" text-anchor="end">0.0</text>
<line x1="613.60" y1="395.30" x2="618.40" y2="395.30" stroke="#1a1a1a" stroke-width="1.4"/>
<text x="612.00" y="398.50" font-size="8.9" font-weight="bold" text-anchor="end">0.2</text>
<line x1="613.60" y1="366.10" x2="618.40" y2="366.10" stroke="#1a1a1a" stroke-width="1.4"/>
<text x="612.00" y="369.30" font-size="8.9" font-weight="bold" text-anchor="end">0.4</text>
<line x1="613.60" y1="336.90" x2="618.40" y2="336.90" stroke="#1a1a1a" stroke-width="1.4"/>
<text x="612.00" y="340.10" font-size="8.9" font-weight="bold" text-anchor="end">0.6</text>
<line x1="613.60" y1="307.70" x2="618.40" y2="307.70" stroke="#1a1a1a" stroke-width="1.4"/>
<text x="612.00" y="310.90" font-size="8.9" font-weight="bold" text-anchor="end">0.8</text>
<line x1="613.60" y1="278.50" x2="618.40" y2="278.50" stroke="#1a1a1a" stroke-width="1.4"/>
<text x="612.00" y="281.70" font-size="8.9" font-weight="bold" text-anchor="end">1.0</text>
<rect x="623.75" y="345.95" width="6.20" height="78.55" fill="#d9d9d9" stroke="#111" stroke-width="1.3"/>
<line x1="626.85" y1="332.08" x2="626.85" y2="359.82" stroke="#111" stroke-width="1.2"/>
<line x1="624.60" y1="332.08" x2="629.10" y2="332.08" stroke="#111" stroke-width="1.2"/>
<line x1="624.60" y1="359.82" x2="629.10" y2="359.82" stroke="#111" stroke-width="1.2"/>
<rect x="633.85" y="389.17" width="6.70" height="35.33" fill="#fae3c6" stroke="#f0902e" stroke-width="1.3"/>
<line x1="637.20" y1="378.22" x2="637.20" y2="400.12" stroke="#f0902e" stroke-width="1.2"/>
<line x1="634.95" y1="378.22" x2="639.45" y2="378.22" stroke="#f0902e" stroke-width="1.2"/>
<line x1="634.95" y1="400.12" x2="639.45" y2="400.12" stroke="#f0902e" stroke-width="1.2"/>
<rect x="652.75" y="331.21" width="6.70" height="93.29" fill="#d9d9d9" stroke="#111" stroke-width="1.3"/>
<line x1="656.10" y1="318.80" x2="656.10" y2="343.62" stroke="#111" stroke-width="1.2"/>
<line x1="653.85" y1="318.80" x2="658.35" y2="318.80" stroke="#111" stroke-width="1.2"/>
<line x1="653.85" y1="343.62" x2="658.35" y2="343.62" stroke="#111" stroke-width="1.2"/>
<rect x="663.75" y="363.47" width="6.70" height="61.03" fill="#fae3c6" stroke="#f0902e" stroke-width="1.3"/>
<line x1="667.10" y1="356.17" x2="667.10" y2="370.77" stroke="#f0902e" stroke-width="1.2"/>
<line x1="664.85" y1="356.17" x2="669.35" y2="356.17" stroke="#f0902e" stroke-width="1.2"/>
<line x1="664.85" y1="370.77" x2="669.35" y2="370.77" stroke="#f0902e" stroke-width="1.2"/>
<circle cx="624.30" cy="329.60" r="2.2" fill="#000"/>
<circle cx="629.40" cy="332.23" r="1.9" fill="#fff" stroke="#111" stroke-width="1.2"/>
<circle cx="626.90" cy="374.42" r="1.9" fill="#fff" stroke="#111" stroke-width="1.2"/>
<circle cx="656.80" cy="323.18" r="2.2" fill="#000"/>
<circle cx="656.30" cy="313.69" r="1.9" fill="#fff" stroke="#111" stroke-width="1.2"/>
<circle cx="656.30" cy="355.00" r="1.9" fill="#fff" stroke="#111" stroke-width="1.2"/>
<rect x="635.10" y="370.37" width="4.60" height="4.60" fill="#f0902e"/>
<rect x="635.50" y="374.57" width="3.80" height="3.80" fill="#fff" stroke="#f0902e" stroke-width="1.2"/>
<rect x="635.50" y="414.28" width="3.80" height="3.80" fill="#fff" stroke="#f0902e" stroke-width="1.2"/>
<rect x="664.60" y="347.74" width="4.60" height="4.60" fill="#f0902e"/>
<rect x="665.00" y="352.52" width="3.80" height="3.80" fill="#fff" stroke="#f0902e" stroke-width="1.2"/>
<rect x="665.00" y="381.72" width="3.80" height="3.80" fill="#fff" stroke="#f0902e" stroke-width="1.2"/>
<line x1="617.70" y1="424.50" x2="675.30" y2="424.50" stroke="#1a1a1a" stroke-width="1.4"/>
<line x1="631.70" y1="424.50" x2="631.70" y2="428.30" stroke="#1a1a1a" stroke-width="1.4"/>
<line x1="661.60" y1="424.50" x2="661.60" y2="428.30" stroke="#1a1a1a" stroke-width="1.4"/>
<text x="0" y="0" font-size="8.5" font-weight="bold" text-anchor="end" transform="translate(634.60,439.30) rotate(-45)">0-18</text>
<text x="0" y="0" font-size="8.5" font-weight="bold" text-anchor="end" transform="translate(663.90,439.30) rotate(-45)">18-32</text>
<text x="652.00" y="268.90" font-size="7.6" font-weight="bold" font-style="italic" text-anchor="middle" fill="#222">0.0289</text>
<line x1="637.70" y1="274.80" x2="667.00" y2="274.80" stroke="#222" stroke-width="1.15"/>
<text x="641.30" y="285.70" font-size="7.6" font-style="italic" text-anchor="middle" fill="#222" stroke="#222" stroke-width="0.2">0.0812</text>
<line x1="627.20" y1="291.20" x2="656.10" y2="291.20" stroke="#222" stroke-width="1.15"/>
<text x="661.50" y="302.40" font-size="7.6" font-weight="bold" font-style="italic" text-anchor="middle" fill="#222">0.0184</text>
<line x1="656.50" y1="308.10" x2="667.00" y2="308.10" stroke="#222" stroke-width="1.15"/>
<text x="632.20" y="316.00" font-size="7.6" font-weight="bold" font-style="italic" text-anchor="middle" fill="#222">0.0106</text>
<line x1="627.20" y1="321.50" x2="637.70" y2="321.50" stroke="#222" stroke-width="1.15"/>
<text x="3.00" y="502.70" font-size="16.3" font-weight="bold">i</text>
<text x="0" y="0" font-size="10.1" font-weight="bold" text-anchor="middle" transform="translate(12.90,583.00) rotate(-90)"><tspan>Tumor volume (mm</tspan><tspan font-size="7" dy="-4.2">3</tspan><tspan dy="4.2">)</tspan></text>
<line x1="43.00" y1="516.45" x2="43.00" y2="650.20" stroke="#1a1a1a" stroke-width="1.4"/>
<line x1="38.00" y1="649.50" x2="43.00" y2="649.50" stroke="#1a1a1a" stroke-width="1.4"/>
<text x="36.20" y="653.10" font-size="10" font-weight="bold" text-anchor="end">0</text>
<line x1="38.00" y1="605.15" x2="43.00" y2="605.15" stroke="#1a1a1a" stroke-width="1.4"/>
<text x="36.20" y="608.75" font-size="10" font-weight="bold" text-anchor="end">100</text>
<line x1="38.00" y1="560.80" x2="43.00" y2="560.80" stroke="#1a1a1a" stroke-width="1.4"/>
<text x="36.20" y="564.40" font-size="10" font-weight="bold" text-anchor="end">200</text>
<line x1="38.00" y1="516.45" x2="43.00" y2="516.45" stroke="#1a1a1a" stroke-width="1.4"/>
<text x="36.20" y="520.05" font-size="10" font-weight="bold" text-anchor="end">300</text>
<polyline points="64.25,649.50 70.31,649.06 80.94,647.28 83.97,645.95 87.01,648.17 94.59,647.28 106.73,640.63 117.36,629.10 123.43,633.98 127.98,622.89 140.12,587.85 147.71,551.49" fill="none" stroke="#f51d1d" stroke-width="0.6"/>
<rect x="62.65" y="647.90" width="3.20" height="3.20" fill="#f51d1d"/>
<rect x="68.72" y="647.46" width="3.20" height="3.20" fill="#f51d1d"/>
<rect x="79.34" y="645.68" width="3.20" height="3.20" fill="#f51d1d"/>
<rect x="82.37" y="644.35" width="3.20" height="3.20" fill="#f51d1d"/>
<rect x="85.41" y="646.57" width="3.20" height="3.20" fill="#f51d1d"/>
<rect x="93.00" y="645.68" width="3.20" height="3.20" fill="#f51d1d"/>
<rect x="105.14" y="639.03" width="3.20" height="3.20" fill="#f51d1d"/>
<rect x="115.76" y="627.50" width="3.20" height="3.20" fill="#f51d1d"/>
<rect x="121.83" y="632.38" width="3.20" height="3.20" fill="#f51d1d"/>
<rect x="126.38" y="621.29" width="3.20" height="3.20" fill="#f51d1d"/>
<rect x="138.52" y="586.25" width="3.20" height="3.20" fill="#f51d1d"/>
<rect x="146.11" y="549.89" width="3.20" height="3.20" fill="#f51d1d"/>
<polyline points="64.25,649.50 70.31,649.50 80.94,648.17 83.97,646.84 87.01,648.61 94.59,647.73 106.73,641.52 117.36,632.65 123.43,636.20 127.98,625.99 140.12,594.51 147.71,562.13" fill="none" stroke="#f51d1d" stroke-width="0.6"/>
<rect x="62.65" y="647.90" width="3.20" height="3.20" fill="#f51d1d"/>
<rect x="68.72" y="647.90" width="3.20" height="3.20" fill="#f51d1d"/>
<rect x="79.34" y="646.57" width="3.20" height="3.20" fill="#f51d1d"/>
<rect x="82.37" y="645.24" width="3.20" height="3.20" fill="#f51d1d"/>
<rect x="85.41" y="647.01" width="3.20" height="3.20" fill="#f51d1d"/>
<rect x="93.00" y="646.13" width="3.20" height="3.20" fill="#f51d1d"/>
<rect x="105.14" y="639.92" width="3.20" height="3.20" fill="#f51d1d"/>
<rect x="115.76" y="631.05" width="3.20" height="3.20" fill="#f51d1d"/>
<rect x="121.83" y="634.60" width="3.20" height="3.20" fill="#f51d1d"/>
<rect x="126.38" y="624.39" width="3.20" height="3.20" fill="#f51d1d"/>
<rect x="138.52" y="592.91" width="3.20" height="3.20" fill="#f51d1d"/>
<rect x="146.11" y="560.53" width="3.20" height="3.20" fill="#f51d1d"/>
<polyline points="64.25,649.50 70.31,648.61 80.94,648.61 83.97,645.07 87.01,648.61 94.59,647.73 106.73,642.85 117.36,636.20 123.43,637.08 127.98,629.10 140.12,594.51 147.71,564.35" fill="none" stroke="#f51d1d" stroke-width="0.6"/>
<rect x="62.65" y="647.90" width="3.20" height="3.20" fill="#f51d1d"/>
<rect x="68.72" y="647.01" width="3.20" height="3.20" fill="#f51d1d"/>
<rect x="79.34" y="647.01" width="3.20" height="3.20" fill="#f51d1d"/>
<rect x="82.37" y="643.47" width="3.20" height="3.20" fill="#f51d1d"/>
<rect x="85.41" y="647.01" width="3.20" height="3.20" fill="#f51d1d"/>
<rect x="93.00" y="646.13" width="3.20" height="3.20" fill="#f51d1d"/>
<rect x="105.14" y="641.25" width="3.20" height="3.20" fill="#f51d1d"/>
<rect x="115.76" y="634.60" width="3.20" height="3.20" fill="#f51d1d"/>
<rect x="121.83" y="635.48" width="3.20" height="3.20" fill="#f51d1d"/>
<rect x="126.38" y="627.50" width="3.20" height="3.20" fill="#f51d1d"/>
<rect x="138.52" y="592.91" width="3.20" height="3.20" fill="#f51d1d"/>
<rect x="146.11" y="562.75" width="3.20" height="3.20" fill="#f51d1d"/>
<polyline points="64.25,649.50 70.31,649.50 80.94,649.06 83.97,647.73 87.01,649.06 94.59,648.17 106.73,642.85 117.36,638.41 123.43,638.86 127.98,631.76 140.12,602.93 147.71,567.01" fill="none" stroke="#f51d1d" stroke-width="0.6"/>
<rect x="62.65" y="647.90" width="3.20" height="3.20" fill="#f51d1d"/>
<rect x="68.72" y="647.90" width="3.20" height="3.20" fill="#f51d1d"/>
<rect x="79.34" y="647.46" width="3.20" height="3.20" fill="#f51d1d"/>
<rect x="82.37" y="646.13" width="3.20" height="3.20" fill="#f51d1d"/>
<rect x="85.41" y="647.46" width="3.20" height="3.20" fill="#f51d1d"/>
<rect x="93.00" y="646.57" width="3.20" height="3.20" fill="#f51d1d"/>
<rect x="105.14" y="641.25" width="3.20" height="3.20" fill="#f51d1d"/>
<rect x="115.76" y="636.81" width="3.20" height="3.20" fill="#f51d1d"/>
<rect x="121.83" y="637.26" width="3.20" height="3.20" fill="#f51d1d"/>
<rect x="126.38" y="630.16" width="3.20" height="3.20" fill="#f51d1d"/>
<rect x="138.52" y="601.33" width="3.20" height="3.20" fill="#f51d1d"/>
<rect x="146.11" y="565.41" width="3.20" height="3.20" fill="#f51d1d"/>
<polyline points="64.25,649.06 70.31,648.17 80.94,646.84 83.97,648.61 87.01,649.06 94.59,648.17 106.73,644.18 117.36,639.74 123.43,641.52 127.98,633.09 140.12,607.37 147.71,588.30" fill="none" stroke="#f51d1d" stroke-width="0.6"/>
<rect x="62.65" y="647.46" width="3.20" height="3.20" fill="#f51d1d"/>
<rect x="68.72" y="646.57" width="3.20" height="3.20" fill="#f51d1d"/>
<rect x="79.34" y="645.24" width="3.20" height="3.20" fill="#f51d1d"/>
<rect x="82.37" y="647.01" width="3.20" height="3.20" fill="#f51d1d"/>
<rect x="85.41" y="647.46" width="3.20" height="3.20" fill="#f51d1d"/>
<rect x="93.00" y="646.57" width="3.20" height="3.20" fill="#f51d1d"/>
<rect x="105.14" y="642.58" width="3.20" height="3.20" fill="#f51d1d"/>
<rect x="115.76" y="638.14" width="3.20" height="3.20" fill="#f51d1d"/>
<rect x="121.83" y="639.92" width="3.20" height="3.20" fill="#f51d1d"/>
<rect x="126.38" y="631.49" width="3.20" height="3.20" fill="#f51d1d"/>
<rect x="138.52" y="605.77" width="3.20" height="3.20" fill="#f51d1d"/>
<rect x="146.11" y="586.70" width="3.20" height="3.20" fill="#f51d1d"/>
<polyline points="64.25,649.50 70.31,649.50 80.94,648.61 83.97,648.17 87.01,649.06 94.59,648.61 106.73,645.07 117.36,641.52 123.43,642.85 127.98,637.08 140.12,611.36 147.71,592.73" fill="none" stroke="#f51d1d" stroke-width="0.6"/>
<rect x="62.65" y="647.90" width="3.20" height="3.20" fill="#f51d1d"/>
<rect x="68.72" y="647.90" width="3.20" height="3.20" fill="#f51d1d"/>
<rect x="79.34" y="647.01" width="3.20" height="3.20" fill="#f51d1d"/>
<rect x="82.37" y="646.57" width="3.20" height="3.20" fill="#f51d1d"/>
<rect x="85.41" y="647.46" width="3.20" height="3.20" fill="#f51d1d"/>
<rect x="93.00" y="647.01" width="3.20" height="3.20" fill="#f51d1d"/>
<rect x="105.14" y="643.47" width="3.20" height="3.20" fill="#f51d1d"/>
<rect x="115.76" y="639.92" width="3.20" height="3.20" fill="#f51d1d"/>
<rect x="121.83" y="641.25" width="3.20" height="3.20" fill="#f51d1d"/>
<rect x="126.38" y="635.48" width="3.20" height="3.20" fill="#f51d1d"/>
<rect x="138.52" y="609.76" width="3.20" height="3.20" fill="#f51d1d"/>
<rect x="146.11" y="591.13" width="3.20" height="3.20" fill="#f51d1d"/>
<polyline points="64.25,649.50 70.31,648.61 80.94,649.06 83.97,647.28 87.01,649.06 94.59,648.61 106.73,645.51 117.36,642.85 123.43,643.29 127.98,637.08 140.12,621.12 147.71,598.50" fill="none" stroke="#f51d1d" stroke-width="0.6"/>
<rect x="62.65" y="647.90" width="3.20" height="3.20" fill="#f51d1d"/>
<rect x="68.72" y="647.01" width="3.20" height="3.20" fill="#f51d1d"/>
<rect x="79.34" y="647.46" width="3.20" height="3.20" fill="#f51d1d"/>
<rect x="82.37" y="645.68" width="3.20" height="3.20" fill="#f51d1d"/>
<rect x="85.41" y="647.46" width="3.20" height="3.20" fill="#f51d1d"/>
<rect x="93.00" y="647.01" width="3.20" height="3.20" fill="#f51d1d"/>
<rect x="105.14" y="643.91" width="3.20" height="3.20" fill="#f51d1d"/>
<rect x="115.76" y="641.25" width="3.20" height="3.20" fill="#f51d1d"/>
<rect x="121.83" y="641.69" width="3.20" height="3.20" fill="#f51d1d"/>
<rect x="126.38" y="635.48" width="3.20" height="3.20" fill="#f51d1d"/>
<rect x="138.52" y="619.52" width="3.20" height="3.20" fill="#f51d1d"/>
<rect x="146.11" y="596.90" width="3.20" height="3.20" fill="#f51d1d"/>
<polyline points="64.25,649.50 70.31,649.50 80.94,649.50 83.97,648.61 87.01,649.50 94.59,648.61 106.73,645.95 117.36,644.18 123.43,644.18 127.98,640.63 140.12,628.21 147.71,606.04" fill="none" stroke="#f51d1d" stroke-width="0.6"/>
<rect x="62.65" y="647.90" width="3.20" height="3.20" fill="#f51d1d"/>
<rect x="68.72" y="647.90" width="3.20" height="3.20" fill="#f51d1d"/>
<rect x="79.34" y="647.90" width="3.20" height="3.20" fill="#f51d1d"/>
<rect x="82.37" y="647.01" width="3.20" height="3.20" fill="#f51d1d"/>
<rect x="85.41" y="647.90" width="3.20" height="3.20" fill="#f51d1d"/>
<rect x="93.00" y="647.01" width="3.20" height="3.20" fill="#f51d1d"/>
<rect x="105.14" y="644.35" width="3.20" height="3.20" fill="#f51d1d"/>
<rect x="115.76" y="642.58" width="3.20" height="3.20" fill="#f51d1d"/>
<rect x="121.83" y="642.58" width="3.20" height="3.20" fill="#f51d1d"/>
<rect x="126.38" y="639.03" width="3.20" height="3.20" fill="#f51d1d"/>
<rect x="138.52" y="626.61" width="3.20" height="3.20" fill="#f51d1d"/>
<rect x="146.11" y="604.44" width="3.20" height="3.20" fill="#f51d1d"/>
<polyline points="64.25,649.50 70.31,649.06 80.94,647.73 83.97,649.06 87.01,649.50 94.59,649.06 106.73,646.84 117.36,645.07 123.43,644.62 127.98,642.40 140.12,631.76 147.71,610.47" fill="none" stroke="#f51d1d" stroke-width="0.6"/>
<rect x="62.65" y="647.90" width="3.20" height="3.20" fill="#f51d1d"/>
<rect x="68.72" y="647.46" width="3.20" height="3.20" fill="#f51d1d"/>
<rect x="79.34" y="646.13" width="3.20" height="3.20" fill="#f51d1d"/>
<rect x="82.37" y="647.46" width="3.20" height="3.20" fill="#f51d1d"/>
<rect x="85.41" y="647.90" width="3.20" height="3.20" fill="#f51d1d"/>
<rect x="93.00" y="647.46" width="3.20" height="3.20" fill="#f51d1d"/>
<rect x="105.14" y="645.24" width="3.20" height="3.20" fill="#f51d1d"/>
<rect x="115.76" y="643.47" width="3.20" height="3.20" fill="#f51d1d"/>
<rect x="121.83" y="643.02" width="3.20" height="3.20" fill="#f51d1d"/>
<rect x="126.38" y="640.80" width="3.20" height="3.20" fill="#f51d1d"/>
<rect x="138.52" y="630.16" width="3.20" height="3.20" fill="#f51d1d"/>
<rect x="146.11" y="608.87" width="3.20" height="3.20" fill="#f51d1d"/>
<polyline points="64.25,649.50 70.31,649.50 80.94,649.50 83.97,649.06 87.01,649.50 94.59,649.06 106.73,647.73 117.36,645.51 123.43,644.62 127.98,642.40 140.12,633.98 147.71,619.34" fill="none" stroke="#f51d1d" stroke-width="0.6"/>
<rect x="62.65" y="647.90" width="3.20" height="3.20" fill="#f51d1d"/>
<rect x="68.72" y="647.90" width="3.20" height="3.20" fill="#f51d1d"/>
<rect x="79.34" y="647.90" width="3.20" height="3.20" fill="#f51d1d"/>
<rect x="82.37" y="647.46" width="3.20" height="3.20" fill="#f51d1d"/>
<rect x="85.41" y="647.90" width="3.20" height="3.20" fill="#f51d1d"/>
<rect x="93.00" y="647.46" width="3.20" height="3.20" fill="#f51d1d"/>
<rect x="105.14" y="646.13" width="3.20" height="3.20" fill="#f51d1d"/>
<rect x="115.76" y="643.91" width="3.20" height="3.20" fill="#f51d1d"/>
<rect x="121.83" y="643.02" width="3.20" height="3.20" fill="#f51d1d"/>
<rect x="126.38" y="640.80" width="3.20" height="3.20" fill="#f51d1d"/>
<rect x="138.52" y="632.38" width="3.20" height="3.20" fill="#f51d1d"/>
<rect x="146.11" y="617.74" width="3.20" height="3.20" fill="#f51d1d"/>
<polyline points="43.00,649.50 53.62,649.06 59.69,645.95 64.25,641.52 70.31,626.44 74.87,612.25 80.94,606.48 83.97,590.51 87.01,580.76 93.08,572.77" fill="none" stroke="#111" stroke-width="0.7"/>
<circle cx="43.00" cy="649.50" r="1.35" fill="#000"/>
<circle cx="53.62" cy="649.06" r="1.35" fill="#000"/>
<circle cx="59.69" cy="645.95" r="1.35" fill="#000"/>
<circle cx="64.25" cy="641.52" r="1.35" fill="#000"/>
<circle cx="70.31" cy="626.44" r="1.35" fill="#000"/>
<circle cx="74.87" cy="612.25" r="1.35" fill="#000"/>
<circle cx="80.94" cy="606.48" r="1.35" fill="#000"/>
<circle cx="83.97" cy="590.51" r="1.35" fill="#000"/>
<circle cx="87.01" cy="580.76" r="1.35" fill="#000"/>
<circle cx="93.08" cy="572.77" r="1.35" fill="#000"/>
<polyline points="43.00,649.50 53.62,649.06 59.69,647.28 64.25,644.18 70.31,640.63 74.87,630.87 80.94,618.90 83.97,608.70 87.01,586.52 93.08,578.54" fill="none" stroke="#111" stroke-width="0.7"/>
<circle cx="43.00" cy="649.50" r="1.35" fill="#000"/>
<circle cx="53.62" cy="649.06" r="1.35" fill="#000"/>
<circle cx="59.69" cy="647.28" r="1.35" fill="#000"/>
<circle cx="64.25" cy="644.18" r="1.35" fill="#000"/>
<circle cx="70.31" cy="640.63" r="1.35" fill="#000"/>
<circle cx="74.87" cy="630.87" r="1.35" fill="#000"/>
<circle cx="80.94" cy="618.90" r="1.35" fill="#000"/>
<circle cx="83.97" cy="608.70" r="1.35" fill="#000"/>
<circle cx="87.01" cy="586.52" r="1.35" fill="#000"/>
<circle cx="93.08" cy="578.54" r="1.35" fill="#000"/>
<polyline points="43.00,649.50 53.62,649.50 59.69,647.73 64.25,645.07 70.31,642.40 74.87,632.20 80.94,626.88 83.97,616.68 87.01,591.40 93.08,581.20" fill="none" stroke="#111" stroke-width="0.7"/>
<circle cx="43.00" cy="649.50" r="1.35" fill="#000"/>
<circle cx="53.62" cy="649.50" r="1.35" fill="#000"/>
<circle cx="59.69" cy="647.73" r="1.35" fill="#000"/>
<circle cx="64.25" cy="645.07" r="1.35" fill="#000"/>
<circle cx="70.31" cy="642.40" r="1.35" fill="#000"/>
<circle cx="74.87" cy="632.20" r="1.35" fill="#000"/>
<circle cx="80.94" cy="626.88" r="1.35" fill="#000"/>
<circle cx="83.97" cy="616.68" r="1.35" fill="#000"/>
<circle cx="87.01" cy="591.40" r="1.35" fill="#000"/>
<circle cx="93.08" cy="581.20" r="1.35" fill="#000"/>
<polyline points="43.00,649.50 53.62,649.50 59.69,648.17 64.25,645.95 70.31,643.73 74.87,634.42 80.94,630.87 83.97,622.00 87.01,602.93 93.08,585.64" fill="none" stroke="#111" stroke-width="0.7"/>
<circle cx="43.00" cy="649.50" r="1.35" fill="#000"/>
<circle cx="53.62" cy="649.50" r="1.35" fill="#000"/>
<circle cx="59.69" cy="648.17" r="1.35" fill="#000"/>
<circle cx="64.25" cy="645.95" r="1.35" fill="#000"/>
<circle cx="70.31" cy="643.73" r="1.35" fill="#000"/>
<circle cx="74.87" cy="634.42" r="1.35" fill="#000"/>
<circle cx="80.94" cy="630.87" r="1.35" fill="#000"/>
<circle cx="83.97" cy="622.00" r="1.35" fill="#000"/>
<circle cx="87.01" cy="602.93" r="1.35" fill="#000"/>
<circle cx="93.08" cy="585.64" r="1.35" fill="#000"/>
<polyline points="43.00,649.50 53.62,649.50 59.69,648.61 64.25,646.40 70.31,645.51 74.87,637.08 80.94,636.20 83.97,632.20 87.01,620.23 93.08,607.37" fill="none" stroke="#111" stroke-width="0.7"/>
<circle cx="43.00" cy="649.50" r="1.35" fill="#000"/>
<circle cx="53.62" cy="649.50" r="1.35" fill="#000"/>
<circle cx="59.69" cy="648.61" r="1.35" fill="#000"/>
<circle cx="64.25" cy="646.40" r="1.35" fill="#000"/>
<circle cx="70.31" cy="645.51" r="1.35" fill="#000"/>
<circle cx="74.87" cy="637.08" r="1.35" fill="#000"/>
<circle cx="80.94" cy="636.20" r="1.35" fill="#000"/>
<circle cx="83.97" cy="632.20" r="1.35" fill="#000"/>
<circle cx="87.01" cy="620.23" r="1.35" fill="#000"/>
<circle cx="93.08" cy="607.37" r="1.35" fill="#000"/>
<polyline points="43.00,649.50 53.62,649.50 59.69,648.61 64.25,647.28 70.31,645.95 74.87,639.74 80.94,640.19 83.97,636.20 87.01,629.54 93.08,624.22" fill="none" stroke="#111" stroke-width="0.7"/>
<circle cx="43.00" cy="649.50" r="1.35" fill="#000"/>
<circle cx="53.62" cy="649.50" r="1.35" fill="#000"/>
<circle cx="59.69" cy="648.61" r="1.35" fill="#000"/>
<circle cx="64.25" cy="647.28" r="1.35" fill="#000"/>
<circle cx="70.31" cy="645.95" r="1.35" fill="#000"/>
<circle cx="74.87" cy="639.74" r="1.35" fill="#000"/>
<circle cx="80.94" cy="640.19" r="1.35" fill="#000"/>
<circle cx="83.97" cy="636.20" r="1.35" fill="#000"/>
<circle cx="87.01" cy="629.54" r="1.35" fill="#000"/>
<circle cx="93.08" cy="624.22" r="1.35" fill="#000"/>
<polyline points="43.00,649.50 53.62,649.50 59.69,649.06 64.25,648.17 70.31,646.84 74.87,644.18 80.94,642.85 83.97,640.63 87.01,633.98 93.08,625.99" fill="none" stroke="#111" stroke-width="0.7"/>
<circle cx="43.00" cy="649.50" r="1.35" fill="#000"/>
<circle cx="53.62" cy="649.50" r="1.35" fill="#000"/>
<circle cx="59.69" cy="649.06" r="1.35" fill="#000"/>
<circle cx="64.25" cy="648.17" r="1.35" fill="#000"/>
<circle cx="70.31" cy="646.84" r="1.35" fill="#000"/>
<circle cx="74.87" cy="644.18" r="1.35" fill="#000"/>
<circle cx="80.94" cy="642.85" r="1.35" fill="#000"/>
<circle cx="83.97" cy="640.63" r="1.35" fill="#000"/>
<circle cx="87.01" cy="633.98" r="1.35" fill="#000"/>
<circle cx="93.08" cy="625.99" r="1.35" fill="#000"/>
<polyline points="43.00,649.50 53.62,649.50 59.69,649.06 64.25,648.61 70.31,647.73 74.87,646.84 80.94,645.07 83.97,644.18 87.01,637.08 93.08,627.33" fill="none" stroke="#111" stroke-width="0.7"/>
<circle cx="43.00" cy="649.50" r="1.35" fill="#000"/>
<circle cx="53.62" cy="649.50" r="1.35" fill="#000"/>
<circle cx="59.69" cy="649.06" r="1.35" fill="#000"/>
<circle cx="64.25" cy="648.61" r="1.35" fill="#000"/>
<circle cx="70.31" cy="647.73" r="1.35" fill="#000"/>
<circle cx="74.87" cy="646.84" r="1.35" fill="#000"/>
<circle cx="80.94" cy="645.07" r="1.35" fill="#000"/>
<circle cx="83.97" cy="644.18" r="1.35" fill="#000"/>
<circle cx="87.01" cy="637.08" r="1.35" fill="#000"/>
<circle cx="93.08" cy="627.33" r="1.35" fill="#000"/>
<line x1="42.30" y1="649.50" x2="164.50" y2="649.50" stroke="#1a1a1a" stroke-width="1.4"/>
<line x1="43.00" y1="649.50" x2="43.00" y2="653.50" stroke="#1a1a1a" stroke-width="1.4"/>
<line x1="73.35" y1="649.50" x2="73.35" y2="653.50" stroke="#1a1a1a" stroke-width="1.4"/>
<line x1="103.70" y1="649.50" x2="103.70" y2="653.50" stroke="#1a1a1a" stroke-width="1.4"/>
<line x1="134.05" y1="649.50" x2="134.05" y2="653.50" stroke="#1a1a1a" stroke-width="1.4"/>
<line x1="164.40" y1="649.50" x2="164.40" y2="653.50" stroke="#1a1a1a" stroke-width="1.4"/>
<text x="43.00" y="665.80" font-size="10" font-weight="bold" text-anchor="middle">0</text>
<text x="73.35" y="665.80" font-size="10" font-weight="bold" text-anchor="middle">20</text>
<text x="103.70" y="665.80" font-size="10" font-weight="bold" text-anchor="middle">40</text>
<text x="134.05" y="665.80" font-size="10" font-weight="bold" text-anchor="middle">60</text>
<text x="164.40" y="665.80" font-size="10" font-weight="bold" text-anchor="middle">80</text>
<text x="104.00" y="680.80" font-size="10" font-weight="bold" text-anchor="middle">Time (Days)</text>
<line x1="74.70" y1="518.00" x2="91.00" y2="518.00" stroke="#222" stroke-width="1"/>
<circle cx="82.85" cy="518.00" r="1.4" fill="#222"/>
<line x1="74.70" y1="531.30" x2="91.00" y2="531.30" stroke="#f51d1d" stroke-width="1"/>
<rect x="81.45" y="529.90" width="2.80" height="2.80" fill="#f51d1d"/>
<text x="95.80" y="521.60" font-size="10" fill="#222" stroke="#222" stroke-width="0.2"><tspan font-style="italic">CDK4</tspan>-WT</text>
<text x="95.80" y="534.90" font-size="10" fill="#222" stroke="#222" stroke-width="0.2"><tspan font-style="italic">CDK4</tspan>-KO</text>
<text x="177.30" y="502.30" font-size="16.3" font-weight="bold">j</text>
<text x="0" y="0" font-size="9.3" font-weight="bold" text-anchor="middle" transform="translate(186.00,586.50) rotate(-90)">Tumor volume growth</text>
<text x="0" y="0" font-size="9.2" font-weight="bold" text-anchor="middle" transform="translate(199.20,586.50) rotate(-90)"><tspan>(mm</tspan><tspan font-size="6" dy="-3.6">3</tspan><tspan dy="3.6">/day)</tspan></text>
<line x1="220.70" y1="527.10" x2="220.70" y2="649.10" stroke="#1a1a1a" stroke-width="1.4"/>
<line x1="216.20" y1="648.40" x2="220.70" y2="648.40" stroke="#1a1a1a" stroke-width="1.4"/>
<text x="214.60" y="651.64" font-size="9" font-weight="bold" text-anchor="end">0</text>
<line x1="216.20" y1="618.07" x2="220.70" y2="618.07" stroke="#1a1a1a" stroke-width="1.4"/>
<text x="214.60" y="621.31" font-size="9" font-weight="bold" text-anchor="end">5</text>
<line x1="216.20" y1="587.75" x2="220.70" y2="587.75" stroke="#1a1a1a" stroke-width="1.4"/>
<text x="214.60" y="590.99" font-size="9" font-weight="bold" text-anchor="end">10</text>
<line x1="216.20" y1="557.42" x2="220.70" y2="557.42" stroke="#1a1a1a" stroke-width="1.4"/>
<text x="214.60" y="560.66" font-size="9" font-weight="bold" text-anchor="end">15</text>
<line x1="216.20" y1="527.10" x2="220.70" y2="527.10" stroke="#1a1a1a" stroke-width="1.4"/>
<text x="214.60" y="530.34" font-size="9" font-weight="bold" text-anchor="end">20</text>
<rect x="229.95" y="604.13" width="12.50" height="44.27" fill="#d9d9d9" stroke="#111" stroke-width="1.3"/>
<line x1="236.20" y1="592.00" x2="236.20" y2="616.26" stroke="#111" stroke-width="1.2"/>
<line x1="233.20" y1="592.00" x2="239.20" y2="592.00" stroke="#111" stroke-width="1.2"/>
<line x1="233.20" y1="616.26" x2="239.20" y2="616.26" stroke="#111" stroke-width="1.2"/>
<rect x="251.95" y="610.19" width="12.90" height="38.21" fill="#f4a3aa" stroke="#f51d1d" stroke-width="1.3"/>
<line x1="258.40" y1="605.64" x2="258.40" y2="614.74" stroke="#f51d1d" stroke-width="1.2"/>
<line x1="255.40" y1="605.64" x2="261.40" y2="605.64" stroke="#f51d1d" stroke-width="1.2"/>
<line x1="255.40" y1="614.74" x2="261.40" y2="614.74" stroke="#f51d1d" stroke-width="1.2"/>
<circle cx="236.00" cy="551.00" r="1.2" fill="#000"/>
<circle cx="234.00" cy="575.62" r="1.2" fill="#000"/>
<circle cx="238.40" cy="577.68" r="1.2" fill="#000"/>
<circle cx="236.00" cy="605.34" r="1.2" fill="#000"/>
<circle cx="236.00" cy="609.58" r="1.2" fill="#000"/>
<circle cx="234.00" cy="632.02" r="1.2" fill="#000"/>
<circle cx="238.40" cy="634.45" r="1.2" fill="#000"/>
<circle cx="236.00" cy="644.76" r="1.2" fill="#000"/>
<rect x="254.45" y="590.44" width="2.50" height="2.50" fill="#f51d1d"/>
<rect x="259.55" y="591.96" width="2.50" height="2.50" fill="#f51d1d"/>
<rect x="256.95" y="597.11" width="2.50" height="2.50" fill="#f51d1d"/>
<rect x="256.95" y="602.88" width="2.50" height="2.50" fill="#f51d1d"/>
<rect x="254.45" y="612.58" width="2.50" height="2.50" fill="#f51d1d"/>
<rect x="259.55" y="612.58" width="2.50" height="2.50" fill="#f51d1d"/>
<rect x="254.45" y="616.82" width="2.50" height="2.50" fill="#f51d1d"/>
<rect x="259.55" y="616.82" width="2.50" height="2.50" fill="#f51d1d"/>
<rect x="256.95" y="625.92" width="2.50" height="2.50" fill="#f51d1d"/>
<line x1="220.00" y1="648.40" x2="273.30" y2="648.40" stroke="#1a1a1a" stroke-width="1.4"/>
<line x1="236.00" y1="648.40" x2="236.00" y2="652.20" stroke="#1a1a1a" stroke-width="1.4"/>
<line x1="258.20" y1="648.40" x2="258.20" y2="652.20" stroke="#1a1a1a" stroke-width="1.4"/>
<text x="236.00" y="661.60" font-size="8.5" font-weight="bold" text-anchor="middle">WT</text>
<text x="258.20" y="661.60" font-size="8.5" font-weight="bold" text-anchor="middle">KO</text>
<text x="247.30" y="532.40" font-size="8.5" font-style="italic" text-anchor="middle" fill="#222" stroke="#222" stroke-width="0.2">0.6310</text>
<line x1="236.40" y1="537.30" x2="258.40" y2="537.30" stroke="#222" stroke-width="1.15"/>
<line x1="219.40" y1="669.10" x2="273.30" y2="669.10" stroke="#111" stroke-width="1.2"/>
<text x="244.7" y="680.7" font-size="9.8" text-anchor="middle" fill="#222" stroke="#222" stroke-width="0.2" textLength="75" lengthAdjust="spacingAndGlyphs">Tumor Xenografts</text>
<text x="288.80" y="504.10" font-size="16.3" font-weight="bold">k</text>
<text x="395.7" y="513.4" font-size="10.8" text-anchor="middle" fill="#222" stroke="#222" stroke-width="0.2" textLength="86" lengthAdjust="spacingAndGlyphs">Tumor Xenografts</text>
<line x1="328.00" y1="517.30" x2="465.00" y2="517.30" stroke="#111" stroke-width="1.3"/>
<text x="487.90" y="513.40" font-size="10.8" text-anchor="middle" fill="#222" stroke="#222" stroke-width="0.2">Cells</text>
<line x1="472.00" y1="517.30" x2="504.60" y2="517.30" stroke="#111" stroke-width="1.3"/>
<line x1="468.50" y1="509.60" x2="468.50" y2="535.20" stroke="#222" stroke-width="1"/>
<text x="360.20" y="530.10" font-size="10" font-weight="bold" text-anchor="middle"><tspan font-style="italic">CDK4</tspan>-WT</text>
<text x="430.00" y="530.10" font-size="10" font-weight="bold" text-anchor="middle" fill="#f01e1e"><tspan font-style="italic">CDK4</tspan>-KO</text>
<line x1="328.40" y1="534.70" x2="393.80" y2="534.70" stroke="#111" stroke-width="1.7"/>
<line x1="398.60" y1="534.70" x2="464.40" y2="534.70" stroke="#f01e1e" stroke-width="1.7"/>
<text x="478.7" y="530.2" font-size="10.2" font-weight="bold" text-anchor="middle" textLength="13.8" lengthAdjust="spacingAndGlyphs">WT</text>
<text x="495.7" y="530.2" font-size="10.2" font-weight="bold" text-anchor="middle" fill="#f01e1e" textLength="13.8" lengthAdjust="spacingAndGlyphs">KO</text>
<line x1="473.00" y1="534.40" x2="484.20" y2="534.40" stroke="#111" stroke-width="1.7"/>
<line x1="490.00" y1="534.40" x2="501.20" y2="534.40" stroke="#f01e1e" stroke-width="1.7"/>
<rect x="328.10" y="539.90" width="173.50" height="20.10" fill="#f6f6f6" stroke="#c8c8c8" stroke-width="1.4"/>
<rect x="330.60" y="547.20" width="10.00" height="4.80" rx="2.40" fill="#cccccc" filter="url(#bl)"/>
<rect x="344.00" y="547.20" width="10.00" height="4.80" rx="2.40" fill="#949494" filter="url(#bl)"/>
<rect x="357.30" y="547.20" width="10.00" height="4.80" rx="2.40" fill="#808080" filter="url(#bl)"/>
<rect x="369.50" y="547.20" width="10.00" height="4.80" rx="2.40" fill="#9e9e9e" filter="url(#bl)"/>
<rect x="381.90" y="547.20" width="10.00" height="4.80" rx="2.40" fill="#a6a6a6" filter="url(#bl)"/>
<rect x="476.70" y="547.20" width="10.00" height="4.80" rx="2.40" fill="#808080" filter="url(#bl)"/>
<text x="326.10" y="554.60" font-size="10" text-anchor="end" stroke="#000" stroke-width="0.2">CDK4</text>
<line x1="502.00" y1="544.00" x2="507.20" y2="544.00" stroke="#1a1a1a" stroke-width="1.4"/>
<text x="509.10" y="546.97" font-size="8.25" stroke="#000" stroke-width="0.2">35kDa</text>
<rect x="328.10" y="562.40" width="173.50" height="18.20" fill="#dadada" stroke="#c8c8c8" stroke-width="1.4"/>
<rect x="330.60" y="569.10" width="10.00" height="4.80" rx="2.40" fill="#8c8c8c" filter="url(#bl)"/>
<rect x="344.00" y="569.10" width="10.00" height="4.80" rx="2.40" fill="#404040" filter="url(#bl)"/>
<rect x="357.30" y="569.10" width="10.00" height="4.80" rx="2.40" fill="#474747" filter="url(#bl)"/>
<rect x="369.50" y="569.10" width="10.00" height="4.80" rx="2.40" fill="#333333" filter="url(#bl)"/>
<rect x="381.90" y="569.10" width="10.00" height="4.80" rx="2.40" fill="#404040" filter="url(#bl)"/>
<rect x="402.50" y="569.10" width="10.00" height="4.80" rx="2.40" fill="#b2b2b2" filter="url(#bl)"/>
<rect x="414.80" y="569.10" width="10.00" height="4.80" rx="2.40" fill="#a6a6a6" filter="url(#bl)"/>
<rect x="426.70" y="569.10" width="10.00" height="4.80" rx="2.40" fill="#b2b2b2" filter="url(#bl)"/>
<rect x="440.00" y="569.10" width="10.00" height="4.80" rx="2.40" fill="#8c8c8c" filter="url(#bl)"/>
<rect x="452.20" y="569.10" width="10.00" height="4.80" rx="2.40" fill="#9e9e9e" filter="url(#bl)"/>
<rect x="476.70" y="569.10" width="10.00" height="4.80" rx="2.40" fill="#999999" filter="url(#bl)"/>
<rect x="489.40" y="569.10" width="10.00" height="4.80" rx="2.40" fill="#b2b2b2" filter="url(#bl)"/>
<text x="326.10" y="576.60" font-size="10" text-anchor="end" stroke="#000" stroke-width="0.2">CDK6</text>
<line x1="502.00" y1="575.00" x2="507.20" y2="575.00" stroke="#1a1a1a" stroke-width="1.4"/>
<text x="509.10" y="577.97" font-size="8.25" stroke="#000" stroke-width="0.2">35kDa</text>
<rect x="328.10" y="586.20" width="173.50" height="19.30" fill="#f3f3f3" stroke="#c8c8c8" stroke-width="1.4"/>
<rect x="344.00" y="593.00" width="10.00" height="4.80" rx="2.40" fill="#ebebeb" filter="url(#bl)"/>
<rect x="369.50" y="593.00" width="10.00" height="4.80" rx="2.40" fill="#b2b2b2" filter="url(#bl)"/>
<rect x="381.90" y="593.00" width="10.00" height="4.80" rx="2.40" fill="#ebebeb" filter="url(#bl)"/>
<rect x="402.50" y="593.00" width="10.00" height="4.80" rx="2.40" fill="#b2b2b2" filter="url(#bl)"/>
<rect x="414.80" y="593.00" width="10.00" height="4.80" rx="2.40" fill="#b2b2b2" filter="url(#bl)"/>
<rect x="426.70" y="593.00" width="10.00" height="4.80" rx="2.40" fill="#bfbfbf" filter="url(#bl)"/>
<rect x="440.00" y="593.00" width="10.00" height="4.80" rx="2.40" fill="#e6e6e6" filter="url(#bl)"/>
<rect x="452.20" y="593.00" width="10.00" height="4.80" rx="2.40" fill="#b2b2b2" filter="url(#bl)"/>
<rect x="476.70" y="593.00" width="10.00" height="4.80" rx="2.40" fill="#595959" filter="url(#bl)"/>
<rect x="489.40" y="593.00" width="10.00" height="4.80" rx="2.40" fill="#262626" filter="url(#bl)"/>
<text x="326.10" y="599.90" font-size="10" text-anchor="end" stroke="#000" stroke-width="0.2"><tspan font-size="7.00" dy="-3.80">S780</tspan><tspan dy="3.80">RB</tspan></text>
<line x1="502.00" y1="602.00" x2="507.20" y2="602.00" stroke="#1a1a1a" stroke-width="1.4"/>
<text x="509.10" y="604.97" font-size="8.25" stroke="#000" stroke-width="0.2">100kDa</text>
<rect x="328.10" y="608.20" width="173.50" height="17.80" fill="#ededed" stroke="#c8c8c8" stroke-width="1.4"/>
<rect x="330.60" y="614.60" width="10.00" height="4.80" rx="2.40" fill="#ebebeb" filter="url(#bl)"/>
<rect x="344.00" y="614.60" width="10.00" height="4.80" rx="2.40" fill="#bfbfbf" filter="url(#bl)"/>
<rect x="369.50" y="614.60" width="10.00" height="4.80" rx="2.40" fill="#8c8c8c" filter="url(#bl)"/>
<rect x="381.90" y="614.60" width="10.00" height="4.80" rx="2.40" fill="#d9d9d9" filter="url(#bl)"/>
<rect x="402.50" y="614.60" width="10.00" height="4.80" rx="2.40" fill="#808080" filter="url(#bl)"/>
<rect x="414.80" y="614.60" width="10.00" height="4.80" rx="2.40" fill="#7a7a7a" filter="url(#bl)"/>
<rect x="426.70" y="614.60" width="10.00" height="4.80" rx="2.40" fill="#595959" filter="url(#bl)"/>
<rect x="440.00" y="614.60" width="10.00" height="4.80" rx="2.40" fill="#cccccc" filter="url(#bl)"/>
<rect x="452.20" y="614.60" width="10.00" height="4.80" rx="2.40" fill="#4d4d4d" filter="url(#bl)"/>
<rect x="476.70" y="614.60" width="10.00" height="4.80" rx="2.40" fill="#404040" filter="url(#bl)"/>
<rect x="489.40" y="614.60" width="10.00" height="4.80" rx="2.40" fill="#141414" filter="url(#bl)"/>
<text x="326.10" y="621.40" font-size="10" text-anchor="end" stroke="#000" stroke-width="0.2">RB</text>
<line x1="502.00" y1="623.50" x2="507.20" y2="623.50" stroke="#1a1a1a" stroke-width="1.4"/>
<text x="509.10" y="626.47" font-size="8.25" stroke="#000" stroke-width="0.2">100kDa</text>
<rect x="328.10" y="631.00" width="173.50" height="16.40" fill="#f8f8f8" stroke="#c8c8c8" stroke-width="1.4"/>
<rect x="330.35" y="636.50" width="10.50" height="3.80" rx="1.90" fill="#737373" filter="url(#bl)"/>
<rect x="343.75" y="637.80" width="10.50" height="3.80" rx="1.90" fill="#333333" filter="url(#bl)"/>
<rect x="357.05" y="637.80" width="10.50" height="3.80" rx="1.90" fill="#616161" filter="url(#bl)"/>
<rect x="369.25" y="637.90" width="10.50" height="3.80" rx="1.90" fill="#080808" filter="url(#bl)"/>
<rect x="381.65" y="636.80" width="10.50" height="3.80" rx="1.90" fill="#666666" filter="url(#bl)"/>
<rect x="402.25" y="636.50" width="10.50" height="3.80" rx="1.90" fill="#080808" filter="url(#bl)"/>
<rect x="414.55" y="637.30" width="10.50" height="3.80" rx="1.90" fill="#0d0d0d" filter="url(#bl)"/>
<rect x="426.45" y="637.80" width="10.50" height="3.80" rx="1.90" fill="#121212" filter="url(#bl)"/>
<rect x="439.75" y="638.10" width="10.50" height="3.80" rx="1.90" fill="#141414" filter="url(#bl)"/>
<rect x="451.95" y="637.90" width="10.50" height="3.80" rx="1.90" fill="#0d0d0d" filter="url(#bl)"/>
<rect x="476.45" y="637.90" width="10.50" height="3.80" rx="1.90" fill="#4d4d4d" filter="url(#bl)"/>
<rect x="489.15" y="637.30" width="10.50" height="3.80" rx="1.90" fill="#616161" filter="url(#bl)"/>
<text x="326.10" y="643.30" font-size="10" text-anchor="end" stroke="#000" stroke-width="0.2">TUB</text>
<line x1="502.00" y1="641.30" x2="507.20" y2="641.30" stroke="#1a1a1a" stroke-width="1.4"/>
<text x="509.10" y="644.27" font-size="8.25" stroke="#000" stroke-width="0.2">55kDa</text>
<rect x="325.40" y="651.50" width="176.20" height="53.50" fill="#eeeeee" stroke="#c8c8c8" stroke-width="1.4"/>
<rect x="331.50" y="652.50" width="11.40" height="51.50" fill="url(#memg3)" filter="url(#bl2)"/>
<rect x="344.80" y="652.50" width="11.40" height="51.50" fill="url(#memg3)" filter="url(#bl2)"/>
<rect x="357.10" y="652.50" width="11.40" height="51.50" fill="url(#memg3)" filter="url(#bl2)"/>
<rect x="369.30" y="652.50" width="11.40" height="51.50" fill="url(#memg3)" filter="url(#bl2)"/>
<rect x="381.60" y="652.50" width="11.40" height="51.50" fill="url(#memg3)" filter="url(#bl2)"/>
<rect x="400.80" y="652.50" width="11.40" height="51.50" fill="url(#memg3)" filter="url(#bl2)"/>
<rect x="413.70" y="652.50" width="11.40" height="51.50" fill="url(#memg3)" filter="url(#bl2)"/>
<rect x="425.30" y="652.50" width="11.40" height="51.50" fill="url(#memg3)" filter="url(#bl2)"/>
<rect x="437.20" y="652.50" width="11.40" height="51.50" fill="url(#memg3)" filter="url(#bl2)"/>
<rect x="448.50" y="652.50" width="11.40" height="51.50" fill="url(#memg3)" filter="url(#bl2)"/>
<rect x="393.90" y="652.80" width="6" height="2.2" rx="1.1" fill="#a6a6a6" filter="url(#bl)"/>
<rect x="393.90" y="658.10" width="6" height="2.6" rx="1.3" fill="#9e9e9e" filter="url(#bl)"/>
<rect x="393.90" y="664.80" width="6" height="3.2" rx="1.6" fill="#949494" filter="url(#bl)"/>
<rect x="393.90" y="673.00" width="6" height="3.4" rx="1.7" fill="#949494" filter="url(#bl)"/>
<rect x="393.90" y="681.70" width="6" height="2.6" rx="1.3" fill="#999999" filter="url(#bl)"/>
<rect x="393.90" y="690.10" width="6" height="2.4" rx="1.2" fill="#9e9e9e" filter="url(#bl)"/>
<rect x="393.90" y="698.40" width="6" height="2.4" rx="1.2" fill="#9e9e9e" filter="url(#bl)"/>
<rect x="473.50" y="652.5" width="11" height="51.5" fill="url(#memg4)" filter="url(#bl2)"/>
<rect x="485.80" y="652.5" width="11" height="51.5" fill="url(#memg4)" filter="url(#bl2)"/>
<text x="323.00" y="676.60" font-size="10" text-anchor="end" stroke="#000" stroke-width="0.2">MEM</text>
<text x="323.00" y="688.40" font-size="10" text-anchor="end" stroke="#000" stroke-width="0.2">code</text>
<line x1="502.00" y1="659.80" x2="507.20" y2="659.80" stroke="#1a1a1a" stroke-width="1.4"/>
<text x="509.10" y="659.07" font-size="8.25" stroke="#000" stroke-width="0.2">100kDa</text>
<line x1="502.00" y1="665.60" x2="507.20" y2="665.60" stroke="#1a1a1a" stroke-width="1.4"/>
<text x="509.10" y="668.87" font-size="8.25" stroke="#000" stroke-width="0.2">70kDa</text>
<line x1="502.00" y1="674.20" x2="507.20" y2="674.20" stroke="#1a1a1a" stroke-width="1.4"/>
<text x="509.10" y="678.07" font-size="8.25" stroke="#000" stroke-width="0.2">55kDa</text>
<line x1="502.00" y1="690.50" x2="507.20" y2="690.50" stroke="#1a1a1a" stroke-width="1.4"/>
<text x="509.10" y="693.47" font-size="8.25" stroke="#000" stroke-width="0.2">35kDa</text>
<line x1="502.00" y1="701.40" x2="507.20" y2="701.40" stroke="#1a1a1a" stroke-width="1.4"/>
<text x="509.10" y="704.07" font-size="8.25" stroke="#000" stroke-width="0.2">25kDa</text>
<text x="541.20" y="502.70" font-size="16.3" font-weight="bold">l</text>
<text x="0" y="0" font-size="8.5" font-weight="bold" text-anchor="middle" transform="translate(574.70,538.40) rotate(-90)"><tspan>Relative </tspan><tspan font-size="6.2" dy="-3.4">S780</tspan><tspan dy="3.4">RB protein</tspan></text>
<text x="0" y="0" font-size="8.5" font-weight="bold" text-anchor="middle" transform="translate(583.50,538.40) rotate(-90)">levels (vs.RB)</text>
<line x1="597.90" y1="500.40" x2="597.90" y2="579.70" stroke="#1a1a1a" stroke-width="1.4"/>
<line x1="593.40" y1="579.00" x2="597.90" y2="579.00" stroke="#1a1a1a" stroke-width="1.4"/>
<text x="591.80" y="582.24" font-size="9" font-weight="bold" text-anchor="end">0</text>
<line x1="593.40" y1="552.80" x2="597.90" y2="552.80" stroke="#1a1a1a" stroke-width="1.4"/>
<text x="591.80" y="556.04" font-size="9" font-weight="bold" text-anchor="end">1</text>
<line x1="593.40" y1="526.60" x2="597.90" y2="526.60" stroke="#1a1a1a" stroke-width="1.4"/>
<text x="591.80" y="529.84" font-size="9" font-weight="bold" text-anchor="end">2</text>
<line x1="593.40" y1="500.40" x2="597.90" y2="500.40" stroke="#1a1a1a" stroke-width="1.4"/>
<text x="591.80" y="503.64" font-size="9" font-weight="bold" text-anchor="end">3</text>
<rect x="607.05" y="553.06" width="14.50" height="25.94" fill="#d9d9d9" stroke="#111" stroke-width="1.3"/>
<line x1="614.30" y1="548.08" x2="614.30" y2="558.04" stroke="#111" stroke-width="1.2"/>
<line x1="611.30" y1="548.08" x2="617.30" y2="548.08" stroke="#111" stroke-width="1.2"/>
<line x1="611.30" y1="558.04" x2="617.30" y2="558.04" stroke="#111" stroke-width="1.2"/>
<rect x="631.05" y="547.30" width="14.70" height="31.70" fill="#f4a3aa" stroke="#f51d1d" stroke-width="1.3"/>
<line x1="638.40" y1="541.01" x2="638.40" y2="553.59" stroke="#f51d1d" stroke-width="1.2"/>
<line x1="635.40" y1="541.01" x2="641.40" y2="541.01" stroke="#f51d1d" stroke-width="1.2"/>
<line x1="635.40" y1="553.59" x2="641.40" y2="553.59" stroke="#f51d1d" stroke-width="1.2"/>
<circle cx="614.20" cy="536.03" r="1.1" fill="#000"/>
<circle cx="614.20" cy="553.06" r="1.1" fill="#000"/>
<circle cx="612.30" cy="563.02" r="1.1" fill="#000"/>
<circle cx="615.70" cy="561.97" r="1.1" fill="#000"/>
<rect x="637.05" y="523.35" width="2.30" height="2.30" fill="#f51d1d"/>
<rect x="637.05" y="546.15" width="2.30" height="2.30" fill="#f51d1d"/>
<rect x="637.05" y="550.86" width="2.30" height="2.30" fill="#f51d1d"/>
<rect x="637.05" y="556.89" width="2.30" height="2.30" fill="#f51d1d"/>
<line x1="597.20" y1="579.00" x2="655.00" y2="579.00" stroke="#1a1a1a" stroke-width="1.4"/>
<line x1="614.20" y1="579.00" x2="614.20" y2="582.80" stroke="#1a1a1a" stroke-width="1.4"/>
<line x1="638.20" y1="579.00" x2="638.20" y2="582.80" stroke="#1a1a1a" stroke-width="1.4"/>
<text x="614.20" y="590.60" font-size="8.5" font-weight="bold" text-anchor="middle">WT</text>
<text x="638.20" y="590.60" font-size="8.5" font-weight="bold" text-anchor="middle">KO</text>
<text x="626.20" y="510.10" font-size="7.3" font-style="italic" text-anchor="middle" fill="#222" stroke="#222" stroke-width="0.2">0.4460</text>
<line x1="614.20" y1="514.30" x2="638.60" y2="514.30" stroke="#222" stroke-width="1.15"/>
<text x="0" y="0" font-size="8.5" font-weight="bold" text-anchor="middle" transform="translate(574.70,637.00) rotate(-90)"><tspan>Relative </tspan><tspan font-size="6.2" dy="-3.4">S780</tspan><tspan dy="3.4">RB protein</tspan></text>
<text x="0" y="0" font-size="8.5" font-weight="bold" text-anchor="middle" transform="translate(583.50,637.00) rotate(-90)">levels (vs.TUB)</text>
<line x1="597.90" y1="599.60" x2="597.90" y2="678.30" stroke="#1a1a1a" stroke-width="1.4"/>
<line x1="593.40" y1="677.60" x2="597.90" y2="677.60" stroke="#1a1a1a" stroke-width="1.4"/>
<text x="591.80" y="680.84" font-size="9" font-weight="bold" text-anchor="end">0</text>
<line x1="593.40" y1="651.60" x2="597.90" y2="651.60" stroke="#1a1a1a" stroke-width="1.4"/>
<text x="591.80" y="654.84" font-size="9" font-weight="bold" text-anchor="end">1</text>
<line x1="593.40" y1="625.60" x2="597.90" y2="625.60" stroke="#1a1a1a" stroke-width="1.4"/>
<text x="591.80" y="628.84" font-size="9" font-weight="bold" text-anchor="end">2</text>
<line x1="593.40" y1="599.60" x2="597.90" y2="599.60" stroke="#1a1a1a" stroke-width="1.4"/>
<text x="591.80" y="602.84" font-size="9" font-weight="bold" text-anchor="end">3</text>
<rect x="607.05" y="651.60" width="14.50" height="26.00" fill="#d9d9d9" stroke="#111" stroke-width="1.3"/>
<line x1="614.30" y1="649.00" x2="614.30" y2="654.20" stroke="#111" stroke-width="1.2"/>
<line x1="611.30" y1="649.00" x2="617.30" y2="649.00" stroke="#111" stroke-width="1.2"/>
<line x1="611.30" y1="654.20" x2="617.30" y2="654.20" stroke="#111" stroke-width="1.2"/>
<rect x="631.05" y="643.02" width="14.70" height="34.58" fill="#f4a3aa" stroke="#f51d1d" stroke-width="1.3"/>
<line x1="638.40" y1="637.82" x2="638.40" y2="648.22" stroke="#f51d1d" stroke-width="1.2"/>
<line x1="635.40" y1="637.82" x2="641.40" y2="637.82" stroke="#f51d1d" stroke-width="1.2"/>
<line x1="635.40" y1="648.22" x2="641.40" y2="648.22" stroke="#f51d1d" stroke-width="1.2"/>
<circle cx="614.20" cy="644.58" r="1.1" fill="#000"/>
<circle cx="614.20" cy="651.60" r="1.1" fill="#000"/>
<circle cx="612.20" cy="654.20" r="1.1" fill="#000"/>
<circle cx="616.20" cy="656.28" r="1.1" fill="#000"/>
<circle cx="614.20" cy="658.10" r="1.1" fill="#000"/>
<rect x="637.05" y="623.15" width="2.30" height="2.30" fill="#f51d1d"/>
<rect x="635.05" y="641.35" width="2.30" height="2.30" fill="#f51d1d"/>
<rect x="639.05" y="642.65" width="2.30" height="2.30" fill="#f51d1d"/>
<rect x="637.05" y="651.75" width="2.30" height="2.30" fill="#f51d1d"/>
<line x1="597.20" y1="677.60" x2="655.00" y2="677.60" stroke="#1a1a1a" stroke-width="1.4"/>
<line x1="614.20" y1="677.60" x2="614.20" y2="681.40" stroke="#1a1a1a" stroke-width="1.4"/>
<line x1="638.20" y1="677.60" x2="638.20" y2="681.40" stroke="#1a1a1a" stroke-width="1.4"/>
<text x="614.20" y="689.40" font-size="8.5" font-weight="bold" text-anchor="middle">WT</text>
<text x="638.20" y="689.40" font-size="8.5" font-weight="bold" text-anchor="middle">KO</text>
<text x="626.20" y="609.40" font-size="7.3" font-style="italic" text-anchor="middle" fill="#222" stroke="#222" stroke-width="0.2">0.1521</text>
<line x1="614.20" y1="613.30" x2="638.60" y2="613.30" stroke="#222" stroke-width="1.15"/>
<line x1="599.20" y1="696.10" x2="653.50" y2="696.10" stroke="#111" stroke-width="1.2"/>
<text x="627.5" y="707.8" font-size="9.8" text-anchor="middle" fill="#222" stroke="#222" stroke-width="0.2" textLength="75" lengthAdjust="spacingAndGlyphs">Tumor Xenografts</text>
</svg></body></html>
